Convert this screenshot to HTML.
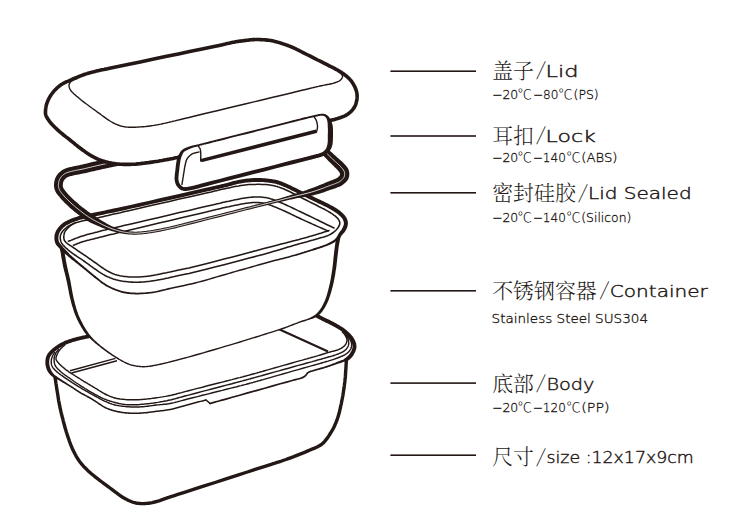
<!DOCTYPE html>
<html lang="zh"><head><meta charset="utf-8"><title>Lunch box structure</title>
<style>
html,body{margin:0;padding:0;background:#fff;}
body{width:750px;height:506px;overflow:hidden;}
svg{display:block;}
text{white-space:pre;}
</style></head><body>
<svg width="750" height="506" viewBox="0 0 750 506">
<path d="M55.0,377.5 L55.5,380.3 L55.9,383.2 L56.4,386.1 L56.8,389.1 L57.3,392.0 L57.8,394.9 L58.2,397.7 L58.6,400.3 L59.1,402.8 L59.5,405.0 L59.8,406.3 L60.0,407.5 L60.2,408.6 L60.5,409.6 L60.7,410.7 L60.9,411.7 L61.2,412.7 L61.4,413.7 L61.7,414.8 L62.0,416.0 L62.4,417.6 L62.9,419.3 L63.3,421.1 L63.8,423.0 L64.3,424.8 L64.8,426.7 L65.3,428.6 L65.9,430.4 L66.4,432.2 L67.0,434.0 L67.5,435.7 L68.1,437.3 L68.7,439.0 L69.2,440.6 L69.8,442.3 L70.4,443.9 L71.0,445.4 L71.7,447.0 L72.3,448.5 L73.0,450.0 L73.6,451.3 L74.3,452.6 L74.9,453.8 L75.6,455.0 L76.2,456.3 L76.9,457.4 L77.6,458.6 L78.4,459.7 L79.2,460.9 L80.0,462.0 L80.9,463.1 L81.7,464.2 L82.6,465.2 L83.6,466.3 L84.5,467.3 L85.5,468.3 L86.6,469.3 L87.7,470.4 L88.8,471.4 L90.0,472.5 L91.7,474.0 L93.6,475.5 L95.5,477.1 L97.6,478.7 L99.7,480.4 L101.9,482.0 L104.0,483.6 L106.1,485.1 L108.1,486.6 L110.0,488.0 L111.5,489.1 L112.9,490.2 L114.4,491.3 L115.8,492.4 L117.2,493.4 L118.5,494.4 L119.9,495.4 L121.2,496.3 L122.6,497.2 L124.0,498.0 L125.2,498.7 L126.4,499.3 L127.6,499.9 L128.7,500.5 L129.9,501.0 L131.1,501.5 L132.3,502.0 L133.5,502.4 L134.7,502.7 L136.0,503.0 L137.3,503.2 L138.6,503.4 L139.9,503.5 L141.3,503.6 L142.6,503.6 L144.0,503.6 L145.4,503.5 L146.9,503.4 L148.4,503.2 L150.0,503.0 L152.3,502.6 L154.7,502.0 L157.2,501.3 L159.7,500.6 L162.3,499.7 L165.1,498.7 L168.0,497.7 L171.0,496.7 L174.3,495.6 L177.8,494.4 L185.2,492.1 L194.2,489.2 L204.3,485.9 L215.1,482.5 L226.1,478.9 L237.0,475.4 L247.4,472.0 L256.8,468.9 L264.9,466.3 L271.2,464.3 L273.2,463.6 L275.0,463.1 L276.5,462.6 L277.9,462.2 L279.2,461.8 L280.5,461.4 L281.7,461.0 L283.0,460.5 L284.4,460.0 L286.0,459.5 L288.2,458.7 L290.6,457.8 L293.1,456.9 L295.6,455.9 L298.2,454.9 L300.7,453.9 L303.3,452.9 L305.7,451.9 L307.9,450.9 L310.0,450.0 L311.4,449.4 L312.7,448.8 L314.0,448.3 L315.3,447.8 L316.5,447.2 L317.7,446.7 L318.8,446.1 L319.9,445.5 L321.0,444.8 L322.0,444.0 L323.0,443.2 L323.9,442.3 L324.7,441.4 L325.5,440.4 L326.3,439.4 L327.1,438.4 L327.8,437.3 L328.6,436.2 L329.3,435.1 L330.0,434.0 L330.8,432.7 L331.6,431.4 L332.3,430.1 L333.1,428.8 L333.8,427.4 L334.5,426.0 L335.1,424.5 L335.8,423.1 L336.4,421.5 L337.0,420.0 L337.6,418.2 L338.2,416.3 L338.8,414.3 L339.3,412.3 L339.8,410.3 L340.3,408.2 L340.7,406.1 L341.2,404.1 L341.6,402.0 L342.0,400.0 L342.4,398.0 L342.8,396.0 L343.1,394.0 L343.4,392.0 L343.7,390.0 L344.0,388.0 L344.3,386.0 L344.5,384.0 L344.8,382.0 L345.0,380.0 L345.2,378.1 L345.4,376.2 L345.5,374.3 L345.6,372.4 L345.7,370.5 L345.9,368.6 L346.0,366.7 L346.1,364.8 L346.2,362.9 L346.3,361.0" fill="none" stroke="#231815" stroke-width="3.4" stroke-linecap="round" stroke-linejoin="round"/>
<path d="M249.6,297.1 L240.5,299.3 L231.4,301.4 L222.2,303.5 L213.1,305.7 L203.9,307.8 L194.8,310.0 L185.8,312.1 L176.9,314.1 L168.1,316.2 L159.6,318.1 L151.9,319.9 L144.0,321.7 L135.9,323.6 L128.0,325.4 L120.1,327.2 L112.6,328.9 L105.6,330.5 L99.2,332.0 L93.5,333.3 L88.8,334.3 L87.0,334.7 L85.5,335.1 L84.1,335.4 L82.7,335.6 L81.5,335.9 L80.3,336.2 L79.1,336.4 L78.0,336.7 L76.7,337.0 L75.5,337.4 L74.2,337.7 L73.0,338.1 L71.7,338.5 L70.5,338.9 L69.2,339.3 L68.0,339.7 L66.8,340.2 L65.5,340.6 L64.4,341.1 L63.2,341.7 L62.1,342.2 L61.0,342.8 L60.0,343.3 L58.9,343.9 L57.9,344.6 L56.9,345.2 L55.9,345.9 L55.0,346.5 L54.1,347.2 L53.2,347.9 L52.4,348.6 L51.7,349.2 L51.0,349.9 L50.3,350.5 L49.6,351.2 L49.0,352.0 L48.3,352.7 L47.8,353.5 L47.2,354.3 L46.8,355.2 L46.4,356.0 L46.2,356.7 L45.9,357.5 L45.7,358.4 L45.6,359.2 L45.5,360.0 L45.4,360.7 L45.4,361.5 L45.4,362.3 L45.4,363.1 L45.4,363.9 L45.5,364.7 L45.6,365.5 L45.8,366.3 L46.0,367.0 L46.2,367.8 L46.4,368.6 L46.7,369.4 L47.0,370.1 L47.3,370.8 L47.7,371.5 L48.1,372.1 L48.5,372.7 L48.9,373.3 L49.4,373.8 L49.9,374.4 L50.4,374.9 L50.9,375.4 L51.5,375.9 L52.1,376.3 L52.7,376.9 L53.4,377.3 L54.2,377.8 L54.9,378.2 L55.7,378.6 L56.4,379.0 L57.2,379.4 L58.0,379.8 L58.7,380.2 L59.5,380.6 L60.4,381.2 L61.4,381.8 L62.4,382.4 L63.4,383.0 L64.4,383.6 L65.5,384.2 L66.5,384.8 L67.5,385.4 L68.6,386.1 L69.6,386.7 L70.6,387.3 L71.6,388.0 L72.6,388.6 L73.6,389.3 L74.5,390.0 L75.5,390.6 L76.6,391.3 L77.6,391.9 L78.6,392.6 L79.6,393.2 L80.6,393.8 L81.7,394.4 L82.7,395.0 L83.8,395.5 L84.8,396.1 L85.9,396.6 L86.9,397.2 L87.8,397.7 L88.8,398.2 L89.6,398.7 L90.2,399.0 L90.7,399.3 L91.2,399.6 L91.6,399.9 L92.1,400.1 L92.6,400.4 L93.0,400.7 L93.5,401.0 L94.0,401.3 L94.6,401.7 L95.4,402.2 L96.3,402.8 L97.3,403.5 L98.3,404.2 L99.3,404.9 L100.4,405.6 L101.4,406.3 L102.5,407.0 L103.6,407.6 L104.7,408.2 L105.7,408.7 L106.7,409.1 L107.7,409.5 L108.7,409.9 L109.7,410.3 L110.7,410.6 L111.7,410.9 L112.8,411.2 L113.8,411.5 L114.8,411.7 L115.8,412.0 L116.8,412.2 L117.8,412.5 L118.8,412.7 L119.8,412.8 L120.9,413.0 L121.9,413.2 L122.9,413.3 L123.9,413.4 L124.9,413.6 L125.9,413.7 L126.9,413.7 L127.9,413.8 L129.0,413.9 L130.0,413.9 L131.0,413.9 L132.0,413.9 L133.0,414.0 L134.0,414.0 L135.0,414.0 L136.0,414.0 L137.0,413.9 L138.0,413.9 L139.0,413.9 L140.0,413.9 L141.0,413.8 L142.0,413.8 L143.1,413.7 L144.1,413.6 L145.1,413.6 L146.1,413.5 L147.1,413.4 L148.0,413.2 L149.0,413.1 L150.0,413.0 L151.0,412.8 L152.0,412.7 L153.0,412.5 L154.0,412.4 L155.1,412.2 L156.5,412.1 L157.9,411.9 L159.3,411.8 L160.8,411.6 L162.3,411.4 L163.9,411.2 L165.4,411.0 L167.0,410.8 L168.6,410.5 L170.1,410.2 L171.9,409.9 L173.7,409.4 L175.5,409.0 L177.3,408.5 L179.1,408.0 L180.9,407.5 L182.8,406.9 L184.6,406.4 L186.4,405.9 L188.2,405.4 L190.0,405.0 L191.8,404.5 L193.6,404.0 L195.4,403.5 L197.2,403.1 L199.0,402.6 L200.8,402.1 L202.6,401.7 L204.4,401.2 L206.2,400.7 L205.8,399.3 L204.0,399.7 L202.2,400.2 L200.4,400.7 L198.6,401.1 L196.8,401.6 L195.0,402.1 L193.2,402.6 L191.4,403.0 L189.6,403.5 L187.8,404.0 L186.0,404.5 L184.2,405.0 L182.3,405.5 L180.5,406.0 L178.7,406.5 L176.9,407.0 L175.1,407.5 L173.3,408.0 L171.6,408.4 L169.9,408.8 L168.3,409.1 L166.8,409.3 L165.2,409.5 L163.7,409.7 L162.2,409.9 L160.6,410.1 L159.2,410.3 L157.7,410.4 L156.3,410.6 L154.9,410.8 L153.8,410.9 L152.8,411.0 L151.7,411.2 L150.7,411.3 L149.8,411.5 L148.8,411.6 L147.8,411.7 L146.9,411.8 L145.9,412.0 L144.9,412.0 L143.9,412.1 L143.0,412.2 L142.0,412.3 L141.0,412.3 L140.0,412.3 L139.0,412.4 L138.0,412.4 L137.0,412.4 L136.0,412.4 L135.0,412.4 L134.0,412.4 L133.0,412.4 L132.0,412.4 L131.0,412.4 L130.0,412.4 L129.0,412.3 L128.0,412.3 L127.1,412.2 L126.1,412.1 L125.1,412.0 L124.1,411.9 L123.1,411.8 L122.1,411.7 L121.1,411.5 L120.1,411.3 L119.1,411.1 L118.1,410.9 L117.2,410.7 L116.2,410.5 L115.2,410.3 L114.2,410.0 L113.2,409.7 L112.2,409.4 L111.2,409.1 L110.2,408.8 L109.2,408.4 L108.2,408.1 L107.3,407.7 L106.3,407.3 L105.3,406.8 L104.3,406.3 L103.3,405.7 L102.3,405.0 L101.2,404.3 L100.2,403.6 L99.2,402.9 L98.2,402.2 L97.2,401.5 L96.3,400.9 L95.4,400.3 L94.9,400.0 L94.3,399.7 L93.8,399.4 L93.4,399.1 L92.9,398.8 L92.5,398.5 L92.0,398.2 L91.5,397.9 L91.0,397.6 L90.4,397.3 L89.5,396.8 L88.6,396.3 L87.6,395.8 L86.6,395.3 L85.6,394.7 L84.5,394.1 L83.5,393.6 L82.4,393.0 L81.4,392.4 L80.4,391.8 L79.4,391.2 L78.4,390.6 L77.4,389.9 L76.4,389.3 L75.4,388.6 L74.4,388.0 L73.4,387.3 L72.4,386.6 L71.4,386.0 L70.4,385.3 L69.4,384.7 L68.4,384.0 L67.4,383.4 L66.4,382.7 L65.3,382.1 L64.3,381.4 L63.3,380.8 L62.4,380.2 L61.4,379.6 L60.5,379.0 L59.7,378.5 L59.0,378.0 L58.3,377.5 L57.5,377.0 L56.9,376.6 L56.2,376.1 L55.6,375.7 L55.0,375.2 L54.4,374.8 L53.9,374.3 L53.5,373.8 L53.1,373.3 L52.7,372.8 L52.4,372.3 L52.0,371.8 L51.7,371.3 L51.4,370.8 L51.2,370.3 L50.9,369.7 L50.7,369.2 L50.5,368.6 L50.2,368.0 L50.0,367.4 L49.8,366.8 L49.7,366.1 L49.5,365.5 L49.4,364.8 L49.3,364.2 L49.2,363.6 L49.2,362.9 L49.2,362.3 L49.2,361.6 L49.2,361.0 L49.3,360.4 L49.4,359.7 L49.5,359.1 L49.6,358.5 L49.8,357.9 L50.0,357.4 L50.2,356.8 L50.5,356.2 L50.9,355.7 L51.3,355.1 L51.8,354.4 L52.4,353.8 L53.0,353.2 L53.6,352.6 L54.3,352.0 L54.9,351.4 L55.6,350.9 L56.4,350.2 L57.2,349.6 L58.1,349.0 L59.0,348.4 L59.9,347.8 L60.9,347.2 L61.8,346.7 L62.8,346.1 L63.8,345.6 L64.8,345.1 L65.9,344.6 L67.0,344.2 L68.1,343.7 L69.3,343.3 L70.4,342.9 L71.6,342.5 L72.8,342.1 L74.1,341.7 L75.3,341.4 L76.5,341.0 L77.7,340.7 L78.9,340.4 L80.0,340.1 L81.1,339.9 L82.3,339.6 L83.5,339.4 L84.8,339.1 L86.3,338.8 L87.9,338.4 L89.6,338.1 L94.4,337.0 L100.1,335.7 L106.5,334.2 L113.5,332.6 L121.0,330.9 L128.8,329.1 L136.8,327.3 L144.8,325.4 L152.8,323.6 L160.4,321.9 L169.0,319.9 L177.7,317.8 L186.6,315.8 L195.7,313.7 L204.8,311.5 L213.9,309.4 L223.1,307.2 L232.3,305.1 L241.4,303.0 L250.4,300.9Z" fill="#231815"/>
<circle cx="250.0" cy="299.0" r="1.90" fill="#231815"/>
<circle cx="206.0" cy="400.0" r="0.75" fill="#231815"/>
<path d="M206,400 L210,403.4" stroke="#231815" stroke-width="1.5" fill="none" stroke-linecap="round"/>
<path d="M210.2,404.3 L211.3,404.0 L212.3,403.7 L213.3,403.5 L214.2,403.2 L215.2,402.9 L216.2,402.6 L217.3,402.3 L218.5,402.0 L219.8,401.6 L221.3,401.2 L226.2,399.9 L232.5,398.1 L239.9,396.0 L248.0,393.7 L256.5,391.4 L265.0,389.0 L273.1,386.7 L280.5,384.6 L286.8,382.9 L291.6,381.5 L293.1,381.1 L294.6,380.7 L295.9,380.4 L297.1,380.1 L298.2,379.8 L299.3,379.6 L300.3,379.3 L301.2,379.0 L302.0,378.7 L302.8,378.4 L303.3,378.2 L303.7,378.0 L304.0,377.8 L304.3,377.6 L304.7,377.4 L305.0,377.2 L305.2,376.9 L305.5,376.7 L305.8,376.5 L306.1,376.2 L306.4,375.9 L306.7,375.6 L306.9,375.2 L307.2,374.9 L307.4,374.6 L307.6,374.2 L307.8,374.0 L308.1,373.7 L308.3,373.5 L308.5,373.3 L308.8,373.1 L309.1,372.9 L309.4,372.8 L309.7,372.7 L310.0,372.5 L310.4,372.4 L310.8,372.3 L311.3,372.1 L311.8,372.0 L312.3,371.8 L313.3,371.5 L314.4,371.2 L315.6,370.8 L317.0,370.4 L318.4,370.1 L319.8,369.7 L321.2,369.3 L322.6,368.9 L324.0,368.5 L325.3,368.1 L326.3,367.8 L327.4,367.4 L328.4,367.1 L329.4,366.8 L330.4,366.4 L331.3,366.1 L332.3,365.7 L333.3,365.4 L334.3,365.0 L335.3,364.7 L336.4,364.3 L337.5,364.0 L338.6,363.6 L339.7,363.2 L340.9,362.9 L342.0,362.5 L343.1,362.1 L344.2,361.8 L345.3,361.4 L346.4,361.0 L345.6,358.6 L344.5,359.0 L343.4,359.4 L342.3,359.9 L341.2,360.3 L340.1,360.8 L339.0,361.2 L337.9,361.6 L336.8,362.1 L335.7,362.5 L334.7,362.9 L333.7,363.3 L332.7,363.6 L331.7,364.0 L330.7,364.4 L329.8,364.7 L328.8,365.1 L327.8,365.4 L326.8,365.8 L325.8,366.1 L324.7,366.5 L323.5,366.9 L322.2,367.3 L320.8,367.6 L319.3,368.0 L317.9,368.4 L316.5,368.8 L315.2,369.2 L313.9,369.5 L312.8,369.9 L311.7,370.2 L311.2,370.4 L310.8,370.5 L310.3,370.6 L309.9,370.8 L309.5,370.9 L309.1,371.1 L308.7,371.2 L308.3,371.4 L307.9,371.7 L307.5,371.9 L307.1,372.2 L306.8,372.6 L306.5,372.9 L306.2,373.2 L306.0,373.6 L305.8,373.9 L305.6,374.2 L305.4,374.5 L305.1,374.8 L304.9,375.0 L304.7,375.2 L304.4,375.4 L304.2,375.6 L303.9,375.8 L303.7,376.0 L303.4,376.1 L303.2,376.3 L302.9,376.5 L302.5,376.6 L302.2,376.8 L301.4,377.1 L300.6,377.4 L299.8,377.7 L298.8,377.9 L297.8,378.2 L296.7,378.5 L295.5,378.8 L294.1,379.1 L292.7,379.5 L291.2,379.9 L286.3,381.2 L280.0,383.0 L272.6,385.1 L264.5,387.4 L256.0,389.7 L247.5,392.1 L239.4,394.4 L232.0,396.5 L225.7,398.2 L220.9,399.6 L219.4,400.0 L218.0,400.4 L216.8,400.7 L215.7,401.0 L214.7,401.3 L213.8,401.6 L212.8,401.8 L211.8,402.1 L210.8,402.4 L209.8,402.7Z" fill="#231815"/>
<circle cx="210.0" cy="403.5" r="0.85" fill="#231815"/>
<circle cx="346.0" cy="359.8" r="1.30" fill="#231815"/>
<path d="M346.0,359.8 L346.4,359.5 L346.7,359.3 L347.1,359.0 L347.4,358.7 L347.8,358.5 L348.1,358.2 L348.5,357.9 L348.8,357.6 L349.2,357.3 L349.5,357.0 L349.9,356.6 L350.3,356.1 L350.7,355.7 L351.0,355.2 L351.4,354.7 L351.8,354.2 L352.1,353.6 L352.4,353.1 L352.7,352.5 L353.0,352.0 L353.2,351.4 L353.5,350.9 L353.7,350.3 L353.9,349.7 L354.1,349.1 L354.3,348.5 L354.4,347.9 L354.5,347.2 L354.5,346.6 L354.5,346.0 L354.4,345.3 L354.3,344.6 L354.2,343.9 L354.0,343.2 L353.7,342.5 L353.4,341.8 L353.1,341.1 L352.8,340.4 L352.4,339.7 L352.0,339.0 L351.5,338.2 L350.9,337.4 L350.3,336.6 L349.6,335.9 L348.9,335.1 L348.2,334.4 L347.4,333.6 L346.6,332.9 L345.8,332.2 L345.0,331.5 L344.1,330.8 L343.2,330.1 L342.2,329.4 L341.2,328.7 L340.2,328.1 L339.1,327.4 L338.1,326.8 L337.1,326.2 L336.0,325.6 L335.0,325.0 L334.0,324.5 L333.1,324.0 L332.2,323.5 L331.2,323.0 L330.3,322.6 L329.3,322.1 L328.3,321.6 L327.3,321.1 L326.2,320.6 L325.0,320.0 L322.9,318.9 L320.6,317.8 L318.1,316.5 L315.5,315.1 L312.8,313.8 L310.1,312.4 L307.4,310.9 L304.8,309.6 L302.3,308.2 L300.0,307.0 L298.2,306.0 L296.6,305.1 L294.9,304.2 L293.3,303.3 L291.8,302.4 L290.2,301.5 L288.7,300.7 L287.1,299.8 L285.6,298.9 L284.0,298.0" fill="none" stroke="#231815" stroke-width="3.9" stroke-linecap="round" stroke-linejoin="round"/>
<path d="M54.5,352.5 L54.3,352.8 L54.1,353.2 L53.9,353.5 L53.7,353.9 L53.4,354.2 L53.2,354.6 L53.0,354.9 L52.8,355.3 L52.7,355.6 L52.5,356.0 L52.3,356.4 L52.2,356.8 L52.0,357.3 L51.9,357.7 L51.7,358.2 L51.6,358.6 L51.5,359.1 L51.4,359.6 L51.3,360.0 L51.3,360.5 L51.3,361.0 L51.3,361.6 L51.3,362.1 L51.3,362.7 L51.3,363.3 L51.4,363.8 L51.5,364.4 L51.6,364.9 L51.8,365.5 L52.0,366.0 L52.3,366.5 L52.5,367.1 L52.9,367.6 L53.2,368.1 L53.6,368.6 L54.1,369.0 L54.5,369.5 L55.0,370.0 L55.5,370.5 L56.0,371.0 L56.7,371.7 L57.5,372.3 L58.3,373.0 L59.2,373.7 L60.1,374.3 L61.0,375.0 L62.0,375.7 L63.0,376.4 L64.0,377.1 L65.0,377.8 L66.3,378.7 L67.7,379.7 L69.2,380.6 L70.7,381.6 L72.2,382.6 L73.8,383.6 L75.4,384.6 L76.9,385.6 L78.5,386.6 L80.0,387.5 L81.5,388.4 L83.0,389.3 L84.6,390.2 L86.1,391.1 L87.7,391.9 L89.2,392.8 L90.7,393.6 L92.2,394.5 L93.6,395.2 L95.0,396.0 L96.1,396.6 L97.1,397.2 L98.1,397.7 L99.1,398.3 L100.1,398.8 L101.1,399.4 L102.0,399.9 L103.0,400.4 L104.0,400.8 L105.0,401.3 L106.0,401.7 L107.0,402.2 L108.0,402.6 L109.0,403.0 L110.0,403.4 L111.0,403.7 L112.0,404.1 L113.0,404.4 L114.0,404.7 L115.0,405.0 L116.0,405.2 L117.0,405.4 L118.0,405.6 L119.0,405.8 L120.0,405.9 L121.0,406.1 L122.0,406.2 L123.0,406.3 L124.0,406.4 L125.0,406.5 L126.0,406.6 L127.0,406.7 L128.0,406.8 L129.0,406.8 L130.0,406.9 L131.0,406.9 L132.0,407.0 L133.0,407.0 L134.0,407.0 L135.0,407.0 L136.0,407.0 L137.0,407.0 L138.0,406.9 L139.0,406.9 L140.0,406.9 L141.0,406.8 L142.0,406.7 L143.0,406.7 L144.0,406.6 L145.0,406.5 L146.0,406.4 L147.0,406.3 L147.9,406.2 L148.9,406.0 L149.9,405.9 L150.9,405.8 L151.9,405.6 L152.9,405.5 L153.9,405.3 L155.0,405.2 L156.4,405.0 L157.8,404.9 L159.3,404.8 L160.8,404.6 L162.3,404.5 L163.9,404.3 L165.4,404.2 L167.0,404.0 L168.5,403.8 L170.0,403.5 L171.5,403.2 L172.9,402.9 L174.3,402.6 L175.6,402.2 L177.0,401.9 L178.4,401.5 L179.9,401.1 L181.5,400.6 L183.2,400.2 L185.0,399.7 L188.6,398.8 L192.8,397.7 L197.5,396.6 L202.4,395.3 L207.5,394.1 L212.6,392.8 L217.5,391.5 L222.2,390.4 L226.4,389.3 L230.0,388.4 L231.9,387.9 L233.6,387.5 L235.3,387.1 L236.9,386.7 L238.4,386.3 L239.8,385.9 L241.2,385.6 L242.5,385.2 L243.8,384.9 L245.0,384.6 L245.8,384.4 L246.5,384.2 L247.2,384.0 L247.9,383.8 L248.5,383.7 L249.1,383.5 L249.8,383.3 L250.5,383.1 L251.2,382.9 L252.0,382.7 L253.2,382.4 L254.5,382.0 L255.7,381.6 L257.1,381.3 L258.5,380.9 L259.9,380.5 L261.5,380.0 L263.1,379.6 L264.8,379.1 L266.6,378.6 L270.1,377.6 L274.2,376.4 L278.8,375.1 L283.6,373.8 L288.5,372.4 L293.4,370.9 L298.2,369.6 L302.8,368.3 L306.9,367.1 L310.4,366.1 L312.2,365.6 L313.8,365.2 L315.4,364.8 L316.8,364.4 L318.2,364.0 L319.5,363.6 L320.9,363.2 L322.2,362.8 L323.6,362.4 L325.0,362.0 L326.5,361.5 L328.1,361.1 L329.7,360.6 L331.3,360.1 L332.9,359.6 L334.4,359.1 L335.9,358.5 L337.4,358.0 L338.7,357.5 L340.0,357.0 L340.8,356.6 L341.6,356.3 L342.4,356.0 L343.1,355.6 L343.9,355.3 L344.5,354.9 L345.2,354.6 L345.8,354.2 L346.4,353.7 L347.0,353.3 L347.5,352.9 L348.0,352.4 L348.5,351.9 L348.9,351.5 L349.4,351.0 L349.8,350.4 L350.1,349.9 L350.5,349.4 L350.8,348.8 L351.0,348.3 L351.2,347.8 L351.3,347.3 L351.5,346.7 L351.6,346.2 L351.6,345.7 L351.7,345.1 L351.7,344.6 L351.6,344.0 L351.6,343.5 L351.5,343.0 L351.4,342.5 L351.2,342.0 L351.0,341.4 L350.7,340.9 L350.5,340.4 L350.2,339.9 L349.9,339.4 L349.6,338.9 L349.3,338.5 L349.0,338.0 L348.8,337.6 L348.5,337.2 L348.3,336.9 L348.0,336.5 L347.8,336.2 L347.5,335.9 L347.3,335.5 L347.0,335.2 L346.8,334.8 L346.5,334.5" fill="none" stroke="#231815" stroke-width="1.45" stroke-linecap="round" stroke-linejoin="round"/>
<path d="M58.5,349.5 L58.2,349.8 L57.9,350.2 L57.7,350.5 L57.4,350.9 L57.1,351.2 L56.8,351.5 L56.5,351.9 L56.3,352.2 L56.0,352.6 L55.8,353.0 L55.6,353.4 L55.4,353.9 L55.2,354.4 L55.0,354.9 L54.8,355.4 L54.6,355.9 L54.5,356.4 L54.4,356.9 L54.3,357.5 L54.2,358.0 L54.1,358.7 L54.1,359.3 L54.1,360.0 L54.1,360.8 L54.2,361.5 L54.3,362.2 L54.4,363.0 L54.5,363.7 L54.8,364.3 L55.0,365.0 L55.3,365.7 L55.7,366.3 L56.1,366.9 L56.6,367.5 L57.1,368.1 L57.6,368.7 L58.2,369.2 L58.8,369.8 L59.4,370.4 L60.0,371.0 L60.8,371.8 L61.7,372.5 L62.6,373.2 L63.6,374.0 L64.6,374.7 L65.6,375.5 L66.7,376.2 L67.8,377.0 L68.9,377.7 L70.0,378.5 L71.4,379.5 L72.8,380.5 L74.2,381.5 L75.7,382.5 L77.3,383.5 L78.8,384.5 L80.4,385.6 L81.9,386.6 L83.5,387.5 L85.0,388.5 L86.5,389.4 L88.1,390.4 L89.7,391.3 L91.4,392.3 L93.0,393.2 L94.6,394.1 L96.1,394.9 L97.5,395.7 L98.8,396.4 L100.0,397.0 L100.6,397.3 L101.1,397.6 L101.6,397.8 L102.1,398.0 L102.5,398.3 L103.0,398.5 L103.4,398.7 L103.9,398.9 L104.4,399.1 L105.0,399.3 L105.9,399.6 L106.8,400.0 L107.7,400.3 L108.7,400.6 L109.8,401.0 L110.8,401.3 L111.9,401.6 L112.9,401.9 L114.0,402.2 L115.0,402.5 L116.0,402.8 L117.0,403.0 L118.0,403.2 L119.0,403.5 L120.0,403.7 L121.0,403.9 L122.0,404.1 L123.0,404.2 L124.0,404.4 L125.0,404.5 L126.0,404.6 L127.0,404.7 L128.0,404.7 L129.0,404.8 L130.0,404.8 L131.0,404.8 L132.0,404.8 L133.0,404.8 L134.0,404.8 L135.0,404.8 L136.0,404.8 L137.0,404.7 L138.0,404.7 L139.0,404.6 L140.0,404.5 L141.0,404.4 L142.0,404.3 L143.0,404.2 L144.0,404.1 L145.0,404.0 L146.0,403.9 L147.0,403.8 L147.9,403.7 L148.9,403.6 L149.9,403.5 L150.9,403.4 L151.9,403.2 L152.9,403.1 L153.9,403.0 L155.0,402.8 L156.4,402.6 L157.8,402.4 L159.3,402.1 L160.8,401.8 L162.3,401.6 L163.9,401.3 L165.4,401.0 L167.0,400.7 L168.5,400.3 L170.0,400.0 L171.5,399.7 L172.9,399.3 L174.3,399.0 L175.6,398.6 L177.0,398.2 L178.4,397.8 L179.9,397.4 L181.5,397.0 L183.2,396.5 L185.0,396.0 L188.6,395.1 L192.8,394.0 L197.5,392.7 L202.4,391.4 L207.5,390.1 L212.6,388.8 L217.5,387.5 L222.2,386.2 L226.4,385.1 L230.0,384.2 L231.9,383.7 L233.6,383.2 L235.3,382.8 L236.9,382.4 L238.4,382.0 L239.8,381.6 L241.2,381.2 L242.5,380.9 L243.8,380.5 L245.0,380.2 L245.8,380.0 L246.5,379.8 L247.2,379.6 L247.9,379.4 L248.5,379.3 L249.1,379.1 L249.8,378.9 L250.5,378.7 L251.2,378.5 L252.0,378.3 L253.2,378.0 L254.5,377.6 L255.7,377.3 L257.1,376.9 L258.5,376.5 L259.9,376.1 L261.5,375.7 L263.1,375.2 L264.8,374.7 L266.6,374.2 L270.1,373.3 L274.2,372.1 L278.8,370.9 L283.6,369.5 L288.5,368.2 L293.4,366.8 L298.2,365.4 L302.8,364.2 L306.9,363.0 L310.4,362.1 L312.2,361.6 L313.8,361.1 L315.4,360.7 L316.8,360.3 L318.2,359.9 L319.6,359.5 L320.9,359.2 L322.3,358.8 L323.6,358.4 L325.0,358.0 L326.4,357.6 L327.7,357.2 L329.1,356.8 L330.5,356.5 L331.8,356.1 L333.2,355.7 L334.4,355.3 L335.7,354.9 L336.9,354.4 L338.0,354.0 L338.8,353.7 L339.6,353.3 L340.4,353.0 L341.1,352.7 L341.9,352.3 L342.6,352.0 L343.2,351.6 L343.8,351.2 L344.4,350.8 L345.0,350.3 L345.5,349.9 L345.9,349.4 L346.4,348.9 L346.8,348.4 L347.2,347.9 L347.5,347.4 L347.8,346.9 L348.1,346.3 L348.3,345.8 L348.5,345.2 L348.6,344.6 L348.7,344.0 L348.7,343.4 L348.7,342.7 L348.6,342.1 L348.6,341.4 L348.4,340.8 L348.3,340.2 L348.2,339.6 L348.0,339.0 L347.8,338.5 L347.6,338.0 L347.4,337.6 L347.1,337.1 L346.9,336.7 L346.6,336.2 L346.3,335.8 L346.0,335.4 L345.8,334.9 L345.5,334.5" fill="none" stroke="#231815" stroke-width="1.45" stroke-linecap="round" stroke-linejoin="round"/>
<path d="M65.0,344.8 L64.5,345.2 L64.1,345.6 L63.6,346.0 L63.1,346.4 L62.7,346.8 L62.2,347.3 L61.8,347.7 L61.3,348.1 L60.9,348.5 L60.5,349.0 L60.1,349.5 L59.8,349.9 L59.4,350.4 L59.0,350.9 L58.7,351.4 L58.4,351.9 L58.1,352.4 L57.8,353.0 L57.5,353.5 L57.3,354.0 L57.1,354.5 L56.9,355.0 L56.7,355.5 L56.5,356.0 L56.3,356.5 L56.2,357.0 L56.0,357.6 L56.0,358.0 L56.0,358.5 L56.0,359.0 L56.1,359.4 L56.2,359.8 L56.4,360.2 L56.6,360.6 L56.9,361.0 L57.2,361.4 L57.5,361.8 L57.8,362.2 L58.2,362.6 L58.5,363.0 L59.0,363.6 L59.6,364.2 L60.2,364.8 L60.8,365.4 L61.5,366.0 L62.1,366.6 L62.9,367.2 L63.6,367.8 L64.3,368.4 L65.0,369.0 L65.7,369.6 L66.5,370.1 L67.3,370.7 L68.0,371.2 L68.8,371.8 L69.6,372.3 L70.4,372.8 L71.3,373.4 L72.1,373.9 L73.0,374.5 L74.1,375.2 L75.3,376.0 L76.4,376.7 L77.7,377.5 L78.9,378.2 L80.2,379.0 L81.4,379.8 L82.6,380.5 L83.8,381.3 L85.0,382.0 L86.0,382.6 L87.1,383.2 L88.1,383.9 L89.1,384.5 L90.1,385.0 L91.0,385.6 L92.0,386.2 L93.0,386.8 L94.0,387.4 L95.0,388.0 L96.0,388.6 L97.0,389.2 L98.0,389.9 L99.0,390.5 L100.0,391.1 L101.0,391.7 L102.0,392.3 L103.0,392.9 L104.0,393.5 L105.0,394.0 L106.0,394.5 L107.0,395.0 L108.0,395.4 L109.0,395.8 L110.0,396.3 L111.0,396.7 L112.0,397.0 L113.0,397.4 L114.0,397.7 L115.0,398.0 L116.0,398.3 L117.0,398.5 L118.0,398.7 L119.0,398.8 L120.0,399.0 L121.0,399.1 L122.0,399.2 L123.0,399.3 L124.0,399.4 L125.0,399.5 L126.0,399.6 L127.0,399.7 L128.0,399.7 L129.0,399.7 L130.0,399.8 L131.0,399.8 L132.0,399.8 L133.0,399.8 L134.0,399.8 L135.0,399.8 L136.0,399.8 L137.0,399.7 L138.0,399.7 L139.0,399.7 L140.0,399.6 L141.0,399.5 L142.0,399.5 L143.0,399.4 L144.0,399.3 L145.0,399.2 L146.0,399.1 L147.0,399.0 L147.9,398.9 L148.9,398.8 L149.9,398.7 L150.9,398.6 L151.9,398.4 L152.9,398.3 L153.9,398.2 L155.0,398.0 L156.4,397.8 L157.8,397.6 L159.3,397.4 L160.8,397.1 L162.3,396.9 L163.9,396.6 L165.4,396.4 L167.0,396.1 L168.5,395.8 L170.0,395.5 L171.5,395.2 L172.9,394.8 L174.3,394.5 L175.6,394.2 L177.0,393.8 L178.4,393.4 L179.9,393.0 L181.5,392.6 L183.2,392.1 L185.0,391.6 L188.6,390.7 L192.8,389.6 L197.5,388.4 L202.4,387.2 L207.5,385.8 L212.6,384.5 L217.5,383.3 L222.2,382.1 L226.4,381.0 L230.0,380.1 L231.9,379.6 L233.6,379.1 L235.3,378.7 L236.9,378.3 L238.4,377.9 L239.8,377.6 L241.2,377.2 L242.5,376.9 L243.8,376.5 L245.0,376.2 L245.8,376.0 L246.5,375.8 L247.2,375.6 L247.9,375.4 L248.5,375.3 L249.2,375.1 L249.8,374.9 L250.5,374.7 L251.2,374.5 L252.0,374.3 L253.1,374.0 L254.2,373.7 L255.3,373.4 L256.5,373.1 L257.6,372.7 L258.9,372.4 L260.2,372.0 L261.6,371.6 L263.1,371.2 L264.6,370.7 L267.7,369.9 L271.2,368.9 L275.1,367.8 L279.2,366.6 L283.5,365.4 L287.8,364.2 L291.9,363.0 L295.8,361.9 L299.3,360.9 L302.4,360.1 L303.9,359.6 L305.3,359.2 L306.6,358.9 L307.9,358.5 L309.1,358.2 L310.2,357.9 L311.4,357.5 L312.5,357.2 L313.7,356.9 L315.0,356.5 L316.5,356.1 L318.0,355.6 L319.5,355.2 L321.1,354.7 L322.7,354.2 L324.2,353.7 L325.7,353.3 L327.2,352.8 L328.6,352.4 L330.0,352.0 L331.0,351.7 L332.0,351.4 L332.9,351.2 L333.9,351.0 L334.8,350.7 L335.7,350.5 L336.5,350.2 L337.4,350.0 L338.2,349.7 L339.0,349.3 L339.7,349.0 L340.4,348.6 L341.1,348.3 L341.7,347.9 L342.4,347.5 L343.0,347.1 L343.5,346.6 L344.1,346.2 L344.6,345.7 L345.0,345.2 L345.3,344.7 L345.7,344.3 L346.0,343.7 L346.2,343.2 L346.4,342.7 L346.6,342.1 L346.8,341.6 L346.9,341.1 L347.0,340.5 L347.0,340.0 L347.0,339.5 L346.9,339.0 L346.7,338.4 L346.5,337.9 L346.3,337.4 L346.1,336.9 L345.8,336.4 L345.5,335.9 L345.3,335.4 L345.0,335.0 L344.8,334.7 L344.5,334.3 L344.3,334.0 L344.1,333.7 L343.8,333.4 L343.5,333.1 L343.3,332.9 L343.0,332.6 L342.8,332.3 L342.5,332.0" fill="none" stroke="#231815" stroke-width="1.45" stroke-linecap="round" stroke-linejoin="round"/>
<path d="M70,370.8 L115.5,358.4 M71.5,373 L117,360.7" stroke="#231815" stroke-width="1.4" fill="none"/>
<path d="M278,328.8 L328,351.5" stroke="#231815" stroke-width="2.1" fill="none"/>
<path d="M62.0,249.0 L62.3,250.6 L62.5,252.2 L62.8,253.8 L63.1,255.4 L63.3,257.0 L63.6,258.6 L63.9,260.2 L64.2,261.8 L64.5,263.4 L64.8,265.0 L65.1,266.5 L65.5,268.0 L65.8,269.5 L66.1,270.9 L66.5,272.4 L66.9,273.9 L67.2,275.4 L67.6,276.9 L67.9,278.4 L68.3,280.0 L68.7,281.9 L69.1,283.9 L69.5,285.9 L69.8,287.9 L70.2,290.0 L70.6,292.0 L71.0,294.1 L71.4,296.1 L71.8,298.1 L72.3,300.0 L72.7,301.7 L73.2,303.3 L73.6,305.0 L74.0,306.6 L74.5,308.2 L75.0,309.7 L75.5,311.3 L76.1,312.9 L76.7,314.4 L77.3,316.0 L78.0,317.7 L78.8,319.4 L79.7,321.1 L80.5,322.8 L81.4,324.5 L82.4,326.2 L83.3,327.8 L84.2,329.3 L85.1,330.7 L86.0,332.0 L86.6,332.8 L87.2,333.6 L87.8,334.4 L88.3,335.1 L88.9,335.8 L89.5,336.4 L90.1,337.0 L90.7,337.7 L91.3,338.3 L92.0,339.0 L92.7,339.7 L93.5,340.4 L94.2,341.1 L95.0,341.8 L95.8,342.5 L96.6,343.2 L97.4,343.9 L98.2,344.6 L99.1,345.3 L100.0,346.0 L101.1,346.9 L102.2,347.7 L103.4,348.6 L104.6,349.5 L105.8,350.5 L107.0,351.4 L108.3,352.2 L109.5,353.1 L110.8,354.0 L112.0,354.8 L113.2,355.6 L114.4,356.4 L115.7,357.2 L117.0,358.0 L118.2,358.7 L119.5,359.5 L120.7,360.2 L121.8,360.8 L123.0,361.4 L124.0,362.0 L124.7,362.3 L125.3,362.7 L125.9,363.0 L126.5,363.2 L127.0,363.5 L127.6,363.7 L128.2,364.0 L128.8,364.2 L129.4,364.4 L130.0,364.6 L130.7,364.8 L131.5,365.0 L132.3,365.2 L133.1,365.4 L133.9,365.6 L134.7,365.8 L135.6,365.9 L136.4,366.1 L137.2,366.2 L138.0,366.3 L138.8,366.4 L139.6,366.5 L140.3,366.5 L141.1,366.6 L141.9,366.6 L142.6,366.7 L143.4,366.7 L144.3,366.7 L145.1,366.6 L146.0,366.6 L147.2,366.5 L148.5,366.4 L149.9,366.2 L151.3,366.0 L152.7,365.7 L154.2,365.5 L155.7,365.2 L157.1,364.9 L158.6,364.6 L160.0,364.3 L161.5,364.0 L163.0,363.6 L164.5,363.3 L166.0,362.9 L167.5,362.6 L169.0,362.2 L170.5,361.8 L172.0,361.4 L173.5,361.0 L175.0,360.6 L176.5,360.2 L177.9,359.9 L179.2,359.5 L180.6,359.2 L182.0,358.8 L183.4,358.4 L184.9,358.0 L186.4,357.6 L188.1,357.1 L190.0,356.6 L193.9,355.5 L198.3,354.2 L203.3,352.8 L208.5,351.3 L214.0,349.7 L219.5,348.1 L225.0,346.5 L230.4,344.9 L235.4,343.4 L240.0,342.0 L243.4,341.0 L246.7,340.0 L249.9,339.0 L253.1,338.0 L256.1,337.0 L259.1,336.1 L262.0,335.2 L264.8,334.3 L267.5,333.4 L270.0,332.6 L271.7,332.1 L273.3,331.5 L274.9,331.0 L276.4,330.6 L277.8,330.1 L279.3,329.6 L280.7,329.2 L282.1,328.7 L283.5,328.2 L285.0,327.7 L286.5,327.2 L288.1,326.6 L289.6,326.0 L291.2,325.4 L292.7,324.8 L294.3,324.2 L295.8,323.6 L297.2,323.0 L298.7,322.5 L300.0,322.0 L301.0,321.7 L302.0,321.3 L302.9,321.0 L303.9,320.7 L304.8,320.4 L305.6,320.2 L306.5,319.9 L307.4,319.6 L308.2,319.3 L309.0,319.0 L309.7,318.7 L310.3,318.5 L310.9,318.3 L311.5,318.0 L312.1,317.8 L312.7,317.5 L313.3,317.2 L313.9,316.9 L314.4,316.6 L315.0,316.3 L315.5,315.9 L316.1,315.6 L316.6,315.2 L317.1,314.8 L317.6,314.4 L318.1,314.0 L318.6,313.5 L319.0,313.1 L319.5,312.5 L320.0,312.0 L320.6,311.2 L321.3,310.4 L321.9,309.5 L322.5,308.5 L323.2,307.5 L323.8,306.5 L324.3,305.4 L324.9,304.3 L325.5,303.1 L326.0,302.0 L326.6,300.6 L327.2,299.1 L327.7,297.5 L328.3,295.9 L328.8,294.3 L329.3,292.6 L329.7,291.0 L330.2,289.3 L330.6,287.6 L331.0,286.0 L331.4,284.4 L331.7,282.9 L332.1,281.3 L332.4,279.8 L332.7,278.2 L332.9,276.7 L333.2,275.1 L333.5,273.4 L333.7,271.7 L334.0,270.0 L334.3,267.7 L334.6,265.2 L334.9,262.6 L335.2,260.0 L335.5,257.3 L335.8,254.6 L336.1,252.0 L336.4,249.5 L336.7,247.2 L337.0,245.0 L337.2,243.6 L337.5,242.3 L337.7,241.1 L338.0,239.9 L338.2,238.7 L338.5,237.6 L338.7,236.5 L339.0,235.3 L339.2,234.2 L339.5,233.0 L300.0,230.0 L100.0,240.0Z" fill="#fff"/>
<path d="M60.0,249.3 L60.3,250.9 L60.6,252.5 L60.9,254.1 L61.1,255.8 L61.4,257.4 L61.7,259.0 L62.0,260.6 L62.3,262.2 L62.6,263.8 L62.9,265.4 L63.2,266.9 L63.6,268.4 L63.9,269.9 L64.3,271.4 L64.7,272.8 L65.0,274.3 L65.4,275.8 L65.8,277.3 L66.1,278.8 L66.5,280.4 L66.9,282.3 L67.3,284.2 L67.7,286.2 L68.1,288.2 L68.5,290.3 L68.9,292.4 L69.3,294.4 L69.7,296.5 L70.2,298.5 L70.7,300.4 L71.1,302.1 L71.5,303.8 L72.0,305.4 L72.5,307.0 L73.0,308.6 L73.5,310.2 L74.0,311.8 L74.6,313.4 L75.2,315.0 L75.9,316.6 L76.6,318.3 L77.4,320.0 L78.3,321.8 L79.2,323.5 L80.2,325.2 L81.1,326.9 L82.1,328.5 L83.0,330.0 L83.9,331.5 L84.8,332.8 L85.5,333.6 L86.1,334.4 L86.8,335.2 L87.4,335.9 L88.0,336.5 L88.7,337.2 L89.3,337.8 L89.9,338.4 L90.6,339.1 L91.3,339.7 L92.0,340.4 L92.8,341.1 L93.6,341.8 L94.4,342.5 L95.2,343.2 L96.0,343.9 L96.9,344.5 L97.7,345.2 L98.6,345.9 L99.5,346.6 L100.6,347.5 L101.7,348.4 L102.9,349.3 L104.1,350.2 L105.3,351.1 L106.6,352.0 L107.8,352.9 L109.1,353.7 L110.3,354.6 L111.6,355.4 L112.8,356.2 L114.0,357.0 L115.3,357.8 L116.6,358.6 L117.8,359.4 L119.1,360.1 L120.3,360.8 L121.5,361.5 L122.6,362.1 L123.7,362.6 L124.4,363.0 L125.0,363.3 L125.6,363.6 L126.2,363.9 L126.8,364.1 L127.3,364.4 L127.9,364.6 L128.5,364.8 L129.1,365.1 L129.8,365.3 L130.5,365.5 L131.3,365.7 L132.1,365.9 L132.9,366.1 L133.8,366.3 L134.6,366.5 L135.4,366.6 L136.3,366.8 L137.1,366.9 L137.9,367.0 L138.7,367.1 L139.5,367.2 L140.3,367.2 L141.0,367.3 L141.8,367.3 L142.6,367.4 L143.4,367.4 L144.3,367.4 L145.1,367.3 L146.0,367.3 L147.3,367.2 L148.6,367.1 L150.0,366.9 L151.4,366.7 L152.9,366.4 L154.3,366.1 L155.8,365.9 L157.3,365.6 L158.7,365.3 L160.1,365.0 L161.6,364.7 L163.1,364.3 L164.6,364.0 L166.1,363.6 L167.6,363.2 L169.2,362.8 L170.7,362.5 L172.2,362.1 L173.7,361.7 L175.2,361.3 L176.6,360.9 L178.0,360.5 L179.4,360.2 L180.8,359.8 L182.1,359.5 L183.6,359.1 L185.0,358.7 L186.6,358.3 L188.3,357.8 L190.2,357.3 L194.1,356.2 L198.5,354.9 L203.5,353.5 L208.7,352.0 L214.2,350.4 L219.7,348.8 L225.2,347.1 L230.6,345.6 L235.6,344.1 L240.2,342.7 L243.6,341.6 L246.9,340.6 L250.1,339.6 L253.3,338.6 L256.3,337.7 L259.3,336.7 L262.2,335.8 L265.0,334.9 L267.7,334.1 L270.2,333.3 L271.9,332.7 L273.5,332.2 L275.1,331.7 L276.6,331.2 L278.0,330.8 L279.5,330.3 L280.9,329.8 L282.3,329.4 L283.8,328.9 L285.2,328.4 L286.8,327.8 L288.3,327.2 L289.9,326.6 L291.4,326.0 L293.0,325.4 L294.5,324.8 L296.0,324.2 L297.5,323.7 L298.9,323.1 L300.2,322.7 L301.2,322.3 L302.2,322.0 L303.1,321.7 L304.1,321.4 L305.0,321.2 L305.9,320.9 L306.8,320.6 L307.6,320.3 L308.5,320.0 L309.3,319.7 L310.0,319.5 L310.6,319.3 L311.3,319.1 L311.9,318.9 L312.5,318.7 L313.2,318.5 L313.8,318.2 L314.4,317.9 L315.0,317.6 L315.6,317.3 L316.2,317.0 L316.8,316.6 L317.3,316.2 L317.9,315.8 L318.4,315.4 L319.0,315.0 L319.5,314.5 L320.1,314.0 L320.6,313.5 L321.1,312.9 L321.8,312.1 L322.5,311.2 L323.1,310.3 L323.8,309.3 L324.5,308.3 L325.1,307.2 L325.7,306.1 L326.3,305.0 L326.9,303.8 L327.5,302.6 L328.1,301.2 L328.7,299.7 L329.3,298.1 L329.8,296.4 L330.4,294.8 L330.9,293.1 L331.4,291.4 L331.8,289.7 L332.3,288.1 L332.7,286.4 L333.1,284.8 L333.5,283.3 L333.8,281.7 L334.1,280.1 L334.4,278.6 L334.7,277.0 L335.0,275.4 L335.3,273.7 L335.5,272.0 L335.8,270.3 L336.2,267.9 L336.5,265.4 L336.8,262.8 L337.1,260.2 L337.4,257.5 L337.7,254.8 L338.0,252.2 L338.3,249.7 L338.6,247.4 L338.9,245.3 L339.2,244.0 L339.4,242.7 L339.6,241.5 L339.9,240.3 L340.1,239.1 L340.4,238.0 L340.6,236.9 L340.9,235.8 L341.2,234.6 L341.4,233.4 L337.6,232.6 L337.3,233.8 L337.1,234.9 L336.8,236.0 L336.6,237.2 L336.3,238.3 L336.1,239.5 L335.8,240.7 L335.6,241.9 L335.3,243.3 L335.1,244.7 L334.8,246.9 L334.5,249.3 L334.2,251.8 L333.9,254.4 L333.6,257.1 L333.3,259.8 L333.1,262.4 L332.8,265.0 L332.5,267.4 L332.2,269.7 L331.9,271.5 L331.7,273.1 L331.4,274.8 L331.1,276.4 L330.9,277.9 L330.6,279.5 L330.3,281.0 L330.0,282.5 L329.7,284.0 L329.3,285.6 L328.9,287.2 L328.5,288.8 L328.1,290.5 L327.6,292.2 L327.2,293.8 L326.7,295.4 L326.2,297.0 L325.7,298.5 L325.1,300.0 L324.5,301.4 L324.0,302.5 L323.5,303.6 L323.0,304.6 L322.4,305.7 L321.8,306.7 L321.3,307.7 L320.7,308.6 L320.1,309.5 L319.5,310.3 L318.9,311.1 L318.5,311.6 L318.0,312.1 L317.6,312.6 L317.2,313.0 L316.7,313.4 L316.3,313.8 L315.8,314.2 L315.4,314.6 L314.9,314.9 L314.4,315.3 L313.9,315.6 L313.4,316.0 L312.8,316.3 L312.3,316.6 L311.8,316.8 L311.2,317.1 L310.6,317.4 L310.0,317.7 L309.4,318.0 L308.7,318.3 L307.9,318.6 L307.1,318.9 L306.3,319.2 L305.4,319.4 L304.5,319.7 L303.6,320.0 L302.7,320.3 L301.7,320.6 L300.8,321.0 L299.8,321.3 L298.4,321.8 L297.0,322.4 L295.5,322.9 L294.0,323.5 L292.5,324.1 L290.9,324.7 L289.4,325.3 L287.8,325.9 L286.3,326.5 L284.8,327.0 L283.3,327.6 L281.9,328.0 L280.5,328.5 L279.0,329.0 L277.6,329.4 L276.2,329.9 L274.7,330.4 L273.1,330.9 L271.5,331.4 L269.8,331.9 L267.2,332.7 L264.6,333.6 L261.8,334.5 L258.9,335.4 L255.9,336.3 L252.8,337.3 L249.7,338.3 L246.5,339.3 L243.2,340.3 L239.8,341.3 L235.2,342.7 L230.2,344.2 L224.8,345.8 L219.3,347.4 L213.8,349.0 L208.3,350.6 L203.1,352.2 L198.1,353.6 L193.7,354.8 L189.8,355.9 L188.0,356.4 L186.3,356.9 L184.7,357.3 L183.2,357.7 L181.8,358.1 L180.4,358.5 L179.1,358.8 L177.7,359.2 L176.3,359.5 L174.8,359.9 L173.3,360.3 L171.8,360.7 L170.3,361.1 L168.8,361.5 L167.3,361.9 L165.8,362.3 L164.3,362.6 L162.8,363.0 L161.3,363.3 L159.9,363.6 L158.4,363.9 L157.0,364.2 L155.5,364.5 L154.1,364.8 L152.6,365.0 L151.2,365.3 L149.8,365.5 L148.5,365.7 L147.2,365.8 L146.0,365.9 L145.1,365.9 L144.2,366.0 L143.4,366.0 L142.7,366.0 L141.9,365.9 L141.1,365.9 L140.4,365.8 L139.6,365.8 L138.9,365.7 L138.1,365.6 L137.3,365.5 L136.5,365.4 L135.7,365.2 L134.9,365.1 L134.1,364.9 L133.3,364.8 L132.5,364.6 L131.7,364.4 L130.9,364.2 L130.2,363.9 L129.6,363.7 L129.0,363.5 L128.4,363.3 L127.9,363.1 L127.3,362.8 L126.8,362.6 L126.2,362.3 L125.6,362.0 L125.0,361.7 L124.3,361.4 L123.3,360.8 L122.2,360.2 L121.0,359.6 L119.8,358.9 L118.6,358.1 L117.3,357.3 L116.1,356.6 L114.8,355.8 L113.6,355.0 L112.4,354.2 L111.2,353.3 L110.0,352.5 L108.7,351.6 L107.5,350.7 L106.3,349.8 L105.1,348.9 L103.9,348.0 L102.7,347.1 L101.6,346.2 L100.5,345.4 L99.6,344.6 L98.8,343.9 L98.0,343.2 L97.1,342.5 L96.4,341.8 L95.6,341.1 L94.9,340.4 L94.1,339.7 L93.4,339.0 L92.7,338.3 L92.1,337.6 L91.5,336.9 L90.9,336.3 L90.4,335.6 L89.8,335.0 L89.3,334.3 L88.8,333.6 L88.2,332.8 L87.7,332.1 L87.2,331.2 L86.3,329.9 L85.4,328.5 L84.5,327.0 L83.6,325.4 L82.7,323.8 L81.9,322.1 L81.0,320.4 L80.2,318.7 L79.4,317.0 L78.7,315.4 L78.1,313.9 L77.6,312.3 L77.0,310.8 L76.5,309.3 L76.1,307.7 L75.6,306.1 L75.2,304.5 L74.8,302.9 L74.4,301.3 L73.9,299.6 L73.5,297.7 L73.1,295.8 L72.7,293.7 L72.3,291.7 L71.9,289.6 L71.6,287.6 L71.2,285.5 L70.9,283.5 L70.5,281.5 L70.1,279.6 L69.8,278.0 L69.4,276.4 L69.1,274.9 L68.7,273.4 L68.3,271.9 L68.0,270.5 L67.7,269.0 L67.3,267.6 L67.0,266.1 L66.7,264.6 L66.4,263.1 L66.1,261.5 L65.8,259.9 L65.6,258.3 L65.3,256.7 L65.0,255.1 L64.8,253.5 L64.5,251.9 L64.2,250.3 L64.0,248.7Z" fill="#231815"/>
<circle cx="62.0" cy="249.0" r="2.00" fill="#231815"/>
<circle cx="339.5" cy="233.0" r="1.95" fill="#231815"/>
<path d="M95.0,277.0 L94.1,276.2 L93.2,275.5 L92.3,274.7 L91.4,274.0 L90.4,273.2 L89.5,272.4 L88.6,271.7 L87.7,270.9 L86.9,270.2 L86.0,269.5 L85.2,268.9 L84.5,268.3 L83.8,267.7 L83.0,267.1 L82.3,266.5 L81.6,265.9 L80.9,265.3 L80.1,264.8 L79.4,264.1 L78.6,263.5 L77.7,262.7 L76.7,262.0 L75.8,261.2 L74.8,260.4 L73.8,259.6 L72.8,258.7 L71.8,257.9 L70.9,257.1 L69.9,256.2 L69.0,255.4 L68.1,254.6 L67.2,253.7 L66.3,252.9 L65.4,252.0 L64.5,251.1 L63.6,250.3 L62.8,249.4 L62.0,248.6 L61.3,247.8 L60.6,247.0 L60.1,246.5 L59.7,246.0 L59.3,245.5 L58.9,245.0 L58.5,244.6 L58.1,244.1 L57.8,243.6 L57.5,243.1 L57.2,242.6 L57.0,242.0 L56.8,241.3 L56.6,240.5 L56.5,239.7 L56.4,238.9 L56.4,238.0 L56.4,237.2 L56.5,236.3 L56.6,235.4 L56.8,234.6 L57.0,233.8 L57.3,232.9 L57.7,232.0 L58.2,231.1 L58.7,230.2 L59.3,229.4 L60.0,228.5 L60.7,227.7 L61.4,226.9 L62.2,226.1 L63.0,225.4 L64.0,224.6 L65.0,223.9 L66.1,223.3 L67.2,222.6 L68.4,222.0 L69.7,221.5 L71.0,220.9 L72.3,220.4 L73.6,219.9 L75.0,219.4 L76.8,218.8 L78.6,218.2 L80.5,217.7 L82.4,217.2 L84.4,216.8 L86.5,216.3 L88.5,215.9 L90.7,215.4 L92.8,215.0 L95.0,214.5 L97.6,213.9 L100.2,213.4 L102.8,212.8 L105.4,212.3 L108.1,211.7 L110.9,211.1 L113.9,210.5 L117.0,209.8 L120.3,209.1 L123.8,208.4 L131.0,206.8 L139.5,204.9 L148.9,202.7 L159.0,200.4 L169.3,198.1 L179.4,195.8 L189.0,193.6 L197.8,191.6 L205.3,189.9 L211.2,188.5 L213.1,188.1 L214.7,187.7 L216.2,187.4 L217.6,187.1 L218.8,186.8 L220.0,186.6 L221.2,186.3 L222.4,186.0 L223.7,185.7 L225.0,185.4 L226.5,185.0 L228.0,184.6 L229.5,184.2 L230.9,183.8 L232.5,183.4 L234.0,183.0 L235.5,182.6 L237.0,182.2 L238.5,181.9 L240.0,181.6 L241.5,181.3 L243.0,181.1 L244.5,180.9 L246.1,180.7 L247.6,180.5 L249.1,180.4 L250.6,180.2 L252.1,180.1 L253.6,180.1 L255.0,180.0 L256.3,180.0 L257.5,180.0 L258.7,180.0 L259.9,180.0 L261.2,180.0 L262.3,180.1 L263.5,180.2 L264.7,180.3 L265.9,180.4 L267.0,180.5 L268.0,180.6 L269.1,180.7 L270.1,180.9 L271.1,181.0 L272.1,181.2 L273.1,181.3 L274.1,181.5 L275.0,181.7 L276.0,181.9 L277.0,182.2 L278.0,182.5 L279.0,182.8 L280.0,183.1 L280.9,183.5 L281.9,183.8 L282.9,184.2 L283.8,184.6 L284.9,185.1 L285.9,185.5 L287.0,186.0 L288.5,186.7 L290.0,187.4 L291.6,188.1 L293.2,188.9 L294.8,189.7 L296.5,190.6 L298.1,191.4 L299.9,192.3 L301.6,193.1 L303.3,194.0 L305.4,195.0 L307.6,196.1 L310.0,197.2 L312.4,198.3 L314.8,199.5 L317.1,200.6 L319.2,201.6 L321.2,202.5 L322.9,203.4 L324.3,204.0 L324.7,204.2 L325.1,204.4 L325.4,204.5 L325.7,204.7 L326.0,204.8 L326.3,204.9 L326.6,205.1 L326.9,205.2 L327.2,205.4 L327.6,205.6 L328.5,206.1 L329.5,206.6 L330.5,207.2 L331.7,207.9 L332.9,208.5 L334.1,209.3 L335.3,210.0 L336.5,210.7 L337.5,211.5 L338.5,212.2 L339.2,212.8 L339.9,213.4 L340.6,213.9 L341.3,214.5 L341.9,215.1 L342.5,215.7 L343.0,216.3 L343.5,216.9 L344.0,217.6 L344.4,218.2 L344.7,218.7 L344.9,219.3 L345.2,219.8 L345.4,220.4 L345.5,220.9 L345.7,221.5 L345.8,222.0 L345.9,222.6 L345.9,223.1 L345.9,223.7 L345.9,224.3 L345.8,224.9 L345.6,225.5 L345.4,226.1 L345.2,226.7 L345.0,227.3 L344.7,227.9 L344.5,228.5 L344.2,229.1 L343.9,229.6 L343.6,230.0 L343.4,230.5 L343.1,230.9 L342.8,231.2 L342.5,231.6 L342.1,232.0 L341.8,232.4 L341.5,232.8 L341.1,233.2 L340.8,233.6 L340.4,234.2 L340.0,234.8 L339.5,235.4 L339.1,236.1 L338.6,236.7 L338.2,237.4 L337.7,238.0 L337.2,238.6 L336.6,239.2 L336.0,239.8 L335.3,240.4 L334.5,241.0 L333.6,241.5 L332.8,242.0 L331.8,242.5 L330.9,243.0 L329.9,243.5 L329.0,243.9 L328.0,244.4 L327.0,244.8 L325.9,245.3 L324.7,245.7 L323.6,246.2 L322.4,246.6 L321.1,247.0 L319.9,247.4 L318.7,247.8 L317.4,248.2 L316.2,248.6 L315.0,249.0 L315.0,249.0 L313.0,249.6 L311.0,250.2 L309.1,250.9 L307.1,251.5 L305.1,252.1 L303.2,252.7 L301.2,253.4 L299.2,254.0 L297.1,254.6 L295.0,255.2 L292.6,255.9 L290.3,256.5 L287.9,257.1 L285.5,257.8 L283.0,258.4 L280.5,259.0 L278.0,259.7 L275.4,260.4 L272.7,261.1 L270.0,261.8 L266.5,262.8 L262.9,263.8 L259.2,264.8 L255.3,265.9 L251.5,267.0 L247.5,268.1 L243.6,269.2 L239.7,270.3 L235.8,271.4 L232.0,272.5 L228.2,273.6 L224.5,274.7 L220.6,275.8 L216.8,276.9 L213.0,278.0 L209.3,279.1 L205.6,280.2 L201.9,281.2 L198.4,282.1 L195.0,283.0 L192.3,283.7 L189.6,284.3 L187.0,284.9 L184.4,285.5 L181.8,286.0 L179.3,286.5 L176.9,287.0 L174.5,287.5 L172.2,288.0 L170.0,288.5 L168.3,288.9 L166.7,289.3 L165.1,289.7 L163.6,290.1 L162.1,290.4 L160.6,290.8 L159.2,291.1 L157.8,291.5 L156.4,291.7 L155.0,292.0 L153.9,292.2 L152.9,292.3 L151.9,292.5 L150.9,292.6 L149.9,292.7 L148.9,292.9 L147.9,293.0 L147.0,293.0 L146.0,293.1 L145.0,293.2 L144.0,293.3 L143.0,293.3 L142.0,293.4 L141.0,293.4 L140.0,293.5 L139.0,293.5 L138.0,293.5 L137.0,293.5 L136.0,293.5 L135.0,293.5 L134.0,293.5 L133.0,293.4 L132.0,293.4 L131.0,293.3 L130.0,293.2 L129.0,293.1 L128.0,293.0 L127.0,292.8 L126.0,292.7 L125.0,292.5 L124.0,292.3 L123.0,292.1 L122.0,291.8 L121.0,291.5 L120.0,291.2 L119.0,290.9 L118.0,290.6 L117.0,290.2 L116.0,289.9 L115.0,289.5 L114.0,289.1 L113.0,288.7 L112.0,288.2 L110.9,287.7 L109.9,287.2 L108.9,286.7 L108.0,286.2 L107.0,285.7 L106.0,285.1 L105.0,284.5 L104.0,283.8 L103.0,283.1 L102.0,282.4 L101.0,281.7 L100.0,280.9 L99.0,280.1 L98.0,279.3 L97.0,278.5 L96.0,277.8 L95.0,277.0Z" fill="#fff"/>
<path d="M95.6,276.3 L94.7,275.5 L93.8,274.7 L92.9,274.0 L92.0,273.2 L91.1,272.4 L90.2,271.7 L89.3,270.9 L88.4,270.2 L87.5,269.4 L86.6,268.7 L85.9,268.1 L85.1,267.5 L84.4,266.9 L83.7,266.3 L83.0,265.7 L82.3,265.1 L81.5,264.5 L80.8,263.9 L80.1,263.3 L79.3,262.7 L78.4,261.9 L77.5,261.1 L76.5,260.3 L75.6,259.4 L74.6,258.6 L73.7,257.8 L72.7,256.9 L71.8,256.1 L70.8,255.2 L69.9,254.4 L69.1,253.5 L68.2,252.6 L67.4,251.7 L66.5,250.8 L65.7,250.0 L64.8,249.1 L64.1,248.2 L63.3,247.4 L62.7,246.5 L62.0,245.8 L61.6,245.2 L61.1,244.7 L60.7,244.2 L60.3,243.8 L60.0,243.3 L59.7,242.9 L59.4,242.6 L59.2,242.2 L59.0,241.8 L58.9,241.4 L58.7,240.8 L58.6,240.2 L58.5,239.5 L58.4,238.7 L58.4,238.0 L58.4,237.3 L58.5,236.5 L58.6,235.8 L58.7,235.1 L58.9,234.4 L59.2,233.7 L59.5,232.9 L59.9,232.1 L60.4,231.3 L61.0,230.5 L61.6,229.8 L62.2,229.0 L62.9,228.3 L63.6,227.6 L64.3,226.9 L65.2,226.2 L66.1,225.6 L67.1,225.0 L68.1,224.4 L69.3,223.9 L70.5,223.3 L71.7,222.8 L73.0,222.3 L74.3,221.8 L75.7,221.3 L77.4,220.7 L79.1,220.1 L81.0,219.6 L82.9,219.2 L84.8,218.7 L86.9,218.2 L88.9,217.8 L91.1,217.3 L93.2,216.9 L95.4,216.4 L98.0,215.8 L100.6,215.2 L103.2,214.7 L105.8,214.1 L108.5,213.6 L111.3,213.0 L114.2,212.4 L117.4,211.7 L120.7,211.0 L124.2,210.2 L131.4,208.6 L139.9,206.7 L149.3,204.6 L159.4,202.3 L169.7,200.0 L179.8,197.7 L189.5,195.5 L198.2,193.5 L205.7,191.7 L211.6,190.4 L213.5,190.0 L215.1,189.6 L216.6,189.3 L218.0,189.0 L219.2,188.7 L220.4,188.4 L221.6,188.2 L222.8,187.9 L224.1,187.6 L225.5,187.3 L227.0,186.9 L228.5,186.5 L230.0,186.1 L231.5,185.7 L233.0,185.3 L234.5,184.8 L235.9,184.5 L237.4,184.1 L238.9,183.8 L240.3,183.5 L241.8,183.2 L243.3,183.0 L244.8,182.8 L246.3,182.6 L247.8,182.4 L249.3,182.3 L250.8,182.2 L252.2,182.1 L253.7,182.0 L255.1,181.9 L256.3,181.9 L257.5,181.9 L258.7,181.9 L259.9,181.9 L261.1,182.0 L262.2,182.0 L263.4,182.1 L264.5,182.2 L265.7,182.3 L266.8,182.4 L267.8,182.5 L268.8,182.7 L269.8,182.8 L270.8,182.9 L271.8,183.1 L272.7,183.2 L273.7,183.4 L274.6,183.6 L275.5,183.8 L276.5,184.1 L277.4,184.4 L278.4,184.6 L279.3,185.0 L280.2,185.3 L281.2,185.7 L282.1,186.0 L283.1,186.4 L284.1,186.9 L285.1,187.3 L286.2,187.8 L287.7,188.4 L289.2,189.1 L290.7,189.9 L292.3,190.7 L293.9,191.5 L295.6,192.3 L297.3,193.2 L299.0,194.0 L300.7,194.9 L302.5,195.7 L304.5,196.7 L306.8,197.8 L309.1,199.0 L311.5,200.1 L313.9,201.2 L316.2,202.3 L318.4,203.4 L320.4,204.3 L322.1,205.1 L323.4,205.8 L323.9,206.0 L324.3,206.2 L324.6,206.3 L324.9,206.5 L325.2,206.6 L325.4,206.7 L325.7,206.8 L326.0,207.0 L326.3,207.1 L326.7,207.3 L327.5,207.8 L328.5,208.3 L329.6,208.9 L330.7,209.6 L331.9,210.3 L333.1,211.0 L334.3,211.7 L335.4,212.4 L336.4,213.1 L337.3,213.8 L338.0,214.3 L338.7,214.9 L339.3,215.4 L339.9,216.0 L340.5,216.5 L341.0,217.1 L341.5,217.6 L342.0,218.2 L342.4,218.7 L342.7,219.2 L342.9,219.6 L343.1,220.1 L343.3,220.5 L343.5,221.0 L343.6,221.4 L343.7,221.9 L343.8,222.3 L343.9,222.8 L343.9,223.2 L343.9,223.6 L343.9,224.1 L343.8,224.5 L343.7,225.0 L343.5,225.5 L343.3,226.0 L343.1,226.6 L342.9,227.1 L342.7,227.6 L342.4,228.2 L342.1,228.6 L341.9,229.0 L341.7,229.3 L341.5,229.7 L341.3,230.0 L341.0,230.4 L340.7,230.7 L340.4,231.1 L340.0,231.5 L339.7,232.0 L339.3,232.4 L338.9,233.1 L338.5,233.8 L338.1,234.5 L337.7,235.2 L337.4,235.8 L337.0,236.5 L336.6,237.1 L336.2,237.8 L335.7,238.3 L335.2,238.9 L334.5,239.5 L333.8,240.0 L333.0,240.5 L332.2,241.0 L331.3,241.5 L330.4,242.0 L329.5,242.5 L328.5,243.0 L327.6,243.4 L326.6,243.9 L325.5,244.4 L324.4,244.8 L323.2,245.3 L322.0,245.7 L320.8,246.1 L319.6,246.5 L318.4,246.9 L317.1,247.3 L315.9,247.7 L314.7,248.1 L315.3,249.9 L316.5,249.4 L317.7,249.1 L319.0,248.7 L320.2,248.3 L321.4,247.9 L322.7,247.5 L323.9,247.1 L325.1,246.6 L326.3,246.2 L327.4,245.7 L328.4,245.3 L329.4,244.9 L330.4,244.4 L331.4,244.0 L332.4,243.5 L333.3,243.0 L334.2,242.5 L335.1,241.9 L336.0,241.3 L336.8,240.7 L337.5,240.1 L338.2,239.5 L338.8,238.9 L339.4,238.3 L339.9,237.6 L340.4,237.0 L340.9,236.4 L341.4,235.8 L341.9,235.2 L342.3,234.8 L342.6,234.4 L342.9,234.0 L343.3,233.6 L343.6,233.3 L344.0,232.9 L344.3,232.5 L344.7,232.0 L345.0,231.6 L345.3,231.1 L345.7,230.6 L346.0,230.0 L346.3,229.4 L346.5,228.8 L346.8,228.1 L347.1,227.4 L347.3,226.7 L347.5,226.0 L347.7,225.3 L347.8,224.5 L347.9,223.8 L347.9,223.1 L347.8,222.4 L347.8,221.7 L347.6,221.0 L347.5,220.4 L347.3,219.7 L347.0,219.1 L346.8,218.4 L346.5,217.8 L346.1,217.2 L345.6,216.5 L345.1,215.7 L344.5,215.0 L343.9,214.4 L343.3,213.7 L342.6,213.1 L341.9,212.4 L341.2,211.8 L340.5,211.2 L339.7,210.6 L338.7,209.9 L337.6,209.1 L336.4,208.3 L335.2,207.6 L333.9,206.8 L332.7,206.1 L331.5,205.5 L330.4,204.9 L329.4,204.3 L328.5,203.9 L328.1,203.6 L327.8,203.5 L327.4,203.3 L327.1,203.1 L326.8,203.0 L326.5,202.9 L326.2,202.8 L325.9,202.6 L325.6,202.4 L325.1,202.2 L323.8,201.6 L322.1,200.8 L320.1,199.8 L317.9,198.8 L315.6,197.7 L313.2,196.6 L310.8,195.4 L308.5,194.3 L306.2,193.2 L304.2,192.2 L302.4,191.4 L300.7,190.5 L299.0,189.7 L297.3,188.8 L295.7,188.0 L294.0,187.2 L292.4,186.4 L290.8,185.6 L289.3,184.9 L287.8,184.2 L286.7,183.7 L285.6,183.3 L284.6,182.8 L283.6,182.4 L282.6,182.0 L281.6,181.6 L280.6,181.3 L279.6,180.9 L278.6,180.6 L277.5,180.3 L276.5,180.1 L275.5,179.8 L274.4,179.6 L273.4,179.4 L272.4,179.2 L271.4,179.1 L270.3,178.9 L269.3,178.8 L268.3,178.7 L267.2,178.6 L266.0,178.5 L264.9,178.3 L263.7,178.3 L262.5,178.2 L261.2,178.1 L260.0,178.1 L258.8,178.0 L257.5,178.0 L256.2,178.0 L254.9,178.1 L253.5,178.1 L252.0,178.2 L250.5,178.3 L248.9,178.5 L247.4,178.6 L245.8,178.8 L244.3,179.0 L242.7,179.2 L241.2,179.4 L239.7,179.7 L238.1,180.0 L236.5,180.4 L235.0,180.7 L233.5,181.1 L231.9,181.5 L230.4,182.0 L228.9,182.4 L227.5,182.8 L226.0,183.2 L224.5,183.5 L223.2,183.9 L222.0,184.1 L220.8,184.4 L219.6,184.7 L218.4,185.0 L217.1,185.2 L215.8,185.5 L214.3,185.9 L212.6,186.2 L210.8,186.7 L204.9,188.0 L197.4,189.7 L188.6,191.7 L179.0,193.9 L168.8,196.2 L158.6,198.6 L148.5,200.9 L139.0,203.0 L130.6,204.9 L123.4,206.5 L119.9,207.3 L116.6,208.0 L113.5,208.6 L110.5,209.2 L107.7,209.8 L105.0,210.4 L102.4,210.9 L99.8,211.5 L97.2,212.1 L94.6,212.6 L92.4,213.1 L90.3,213.6 L88.1,214.0 L86.1,214.4 L84.0,214.9 L82.0,215.3 L80.0,215.8 L78.0,216.3 L76.1,216.9 L74.3,217.5 L72.9,218.0 L71.6,218.6 L70.2,219.1 L68.9,219.7 L67.6,220.2 L66.3,220.9 L65.1,221.5 L63.9,222.2 L62.8,223.0 L61.7,223.9 L60.8,224.7 L60.0,225.5 L59.2,226.4 L58.4,227.3 L57.7,228.2 L57.1,229.2 L56.5,230.1 L55.9,231.1 L55.5,232.2 L55.1,233.2 L54.8,234.1 L54.6,235.1 L54.5,236.1 L54.4,237.1 L54.4,238.0 L54.4,239.0 L54.5,239.9 L54.7,240.9 L54.9,241.8 L55.1,242.6 L55.4,243.4 L55.7,244.0 L56.1,244.7 L56.5,245.3 L56.9,245.8 L57.4,246.3 L57.8,246.8 L58.3,247.3 L58.7,247.7 L59.2,248.2 L59.9,249.0 L60.7,249.8 L61.5,250.6 L62.4,251.5 L63.3,252.3 L64.3,253.1 L65.2,254.0 L66.2,254.8 L67.1,255.6 L68.1,256.4 L69.0,257.3 L70.0,258.1 L71.0,258.9 L72.0,259.7 L73.0,260.5 L74.0,261.3 L75.0,262.1 L76.0,262.9 L77.0,263.6 L77.9,264.3 L78.7,265.0 L79.4,265.6 L80.2,266.2 L80.9,266.8 L81.7,267.3 L82.4,267.9 L83.1,268.5 L83.8,269.1 L84.6,269.7 L85.4,270.3 L86.2,271.0 L87.1,271.7 L88.0,272.4 L88.9,273.2 L89.8,273.9 L90.7,274.7 L91.7,275.5 L92.6,276.2 L93.5,277.0 L94.4,277.7Z" fill="#231815"/>
<circle cx="95.0" cy="277.0" r="0.95" fill="#231815"/>
<circle cx="315.0" cy="249.0" r="0.90" fill="#231815"/>
<path d="M314.7,248.1 L312.7,248.8 L310.8,249.4 L308.8,250.0 L306.9,250.7 L304.9,251.3 L302.9,251.9 L300.9,252.6 L298.9,253.2 L296.9,253.8 L294.8,254.4 L292.4,255.1 L290.1,255.7 L287.7,256.4 L285.3,257.0 L282.8,257.7 L280.3,258.3 L277.8,259.0 L275.2,259.6 L272.5,260.3 L269.8,261.1 L266.3,262.0 L262.7,263.0 L259.0,264.1 L255.1,265.2 L251.3,266.3 L247.3,267.4 L243.4,268.5 L239.5,269.6 L235.6,270.7 L231.8,271.8 L228.0,272.9 L224.2,274.0 L220.4,275.1 L216.6,276.2 L212.8,277.3 L209.1,278.4 L205.4,279.4 L201.7,280.4 L198.2,281.4 L194.8,282.3 L192.1,282.9 L189.4,283.6 L186.8,284.1 L184.2,284.7 L181.7,285.2 L179.2,285.7 L176.7,286.3 L174.4,286.7 L172.1,287.2 L169.8,287.7 L168.1,288.1 L166.5,288.5 L164.9,288.9 L163.4,289.3 L161.9,289.6 L160.4,290.0 L159.0,290.3 L157.6,290.7 L156.2,290.9 L154.9,291.2 L153.8,291.4 L152.8,291.5 L151.7,291.7 L150.8,291.8 L149.8,291.9 L148.8,292.0 L147.9,292.1 L146.9,292.2 L145.9,292.3 L144.9,292.4 L143.9,292.4 L142.9,292.5 L142.0,292.5 L141.0,292.6 L140.0,292.6 L139.0,292.7 L138.0,292.7 L137.0,292.7 L136.0,292.7 L135.0,292.6 L134.0,292.6 L133.0,292.5 L132.0,292.5 L131.1,292.4 L130.1,292.3 L129.1,292.2 L128.1,292.1 L127.1,292.0 L126.1,291.8 L125.2,291.6 L124.2,291.4 L123.2,291.2 L122.2,290.9 L121.2,290.7 L120.2,290.4 L119.2,290.1 L118.3,289.7 L117.3,289.4 L116.3,289.0 L115.3,288.7 L114.3,288.2 L113.3,287.8 L112.3,287.4 L111.3,286.9 L110.4,286.4 L109.4,285.9 L108.4,285.4 L107.4,284.9 L106.4,284.3 L105.5,283.7 L104.5,283.1 L103.5,282.4 L102.5,281.7 L101.5,280.9 L100.5,280.2 L99.6,279.4 L98.6,278.6 L97.6,277.8 L96.6,277.0 L95.6,276.2 L94.4,277.8 L95.4,278.5 L96.4,279.3 L97.4,280.1 L98.4,280.8 L99.4,281.6 L100.4,282.4 L101.4,283.2 L102.4,283.9 L103.5,284.6 L104.5,285.3 L105.5,285.9 L106.5,286.5 L107.5,287.0 L108.5,287.6 L109.5,288.1 L110.6,288.6 L111.6,289.0 L112.6,289.5 L113.6,289.9 L114.7,290.3 L115.7,290.7 L116.7,291.1 L117.7,291.4 L118.7,291.8 L119.7,292.1 L120.7,292.4 L121.7,292.7 L122.8,292.9 L123.8,293.2 L124.8,293.4 L125.8,293.6 L126.9,293.7 L127.9,293.9 L128.9,294.0 L129.9,294.1 L130.9,294.2 L131.9,294.2 L133.0,294.3 L134.0,294.3 L135.0,294.4 L136.0,294.4 L137.0,294.4 L138.0,294.4 L139.0,294.4 L140.0,294.3 L141.0,294.3 L142.0,294.2 L143.1,294.2 L144.1,294.1 L145.1,294.0 L146.1,294.0 L147.0,293.9 L148.0,293.8 L149.0,293.7 L150.0,293.6 L151.0,293.5 L152.0,293.3 L153.0,293.2 L154.1,293.0 L155.1,292.8 L156.5,292.5 L157.9,292.3 L159.3,291.9 L160.8,291.6 L162.3,291.2 L163.8,290.8 L165.3,290.5 L166.9,290.1 L168.5,289.7 L170.2,289.3 L172.4,288.8 L174.7,288.3 L177.0,287.8 L179.5,287.3 L182.0,286.8 L184.5,286.2 L187.1,285.6 L189.8,285.0 L192.5,284.4 L195.2,283.7 L198.6,282.8 L202.1,281.9 L205.8,280.9 L209.5,279.8 L213.2,278.7 L217.0,277.6 L220.9,276.5 L224.7,275.4 L228.5,274.3 L232.2,273.2 L236.0,272.1 L239.9,271.0 L243.8,269.9 L247.7,268.8 L251.7,267.7 L255.5,266.6 L259.4,265.5 L263.1,264.5 L266.7,263.5 L270.2,262.5 L272.9,261.8 L275.6,261.1 L278.2,260.4 L280.7,259.8 L283.2,259.2 L285.7,258.5 L288.1,257.9 L290.5,257.3 L292.9,256.6 L295.2,256.0 L297.3,255.4 L299.4,254.8 L301.4,254.2 L303.4,253.5 L305.4,252.9 L307.4,252.3 L309.3,251.7 L311.3,251.1 L313.3,250.5 L315.3,249.9Z" fill="#231815"/>
<circle cx="315.0" cy="249.0" r="0.90" fill="#231815"/>
<circle cx="95.0" cy="277.0" r="0.95" fill="#231815"/>
<path d="M61.2,242.2 L60.9,241.5 L60.7,240.8 L60.5,240.0 L60.4,239.3 L60.3,238.6 L60.2,237.8 L60.3,237.1 L60.3,236.4 L60.4,235.7 L60.6,235.0 L60.8,234.3 L61.2,233.6 L61.5,232.9 L62.0,232.2 L62.4,231.5 L63.0,230.9 L63.5,230.2 L64.1,229.6 L64.8,229.0 L65.4,228.4 L66.2,227.8 L67.0,227.1 L67.8,226.5 L68.7,226.0 L69.7,225.4 L70.6,224.9 L71.7,224.4 L72.7,223.9 L73.8,223.5 L75.0,223.0 L76.7,222.4 L78.4,221.9 L80.3,221.4 L82.3,221.0 L84.3,220.6 L86.4,220.2 L88.5,219.8 L90.6,219.4 L92.8,219.0 L95.0,218.5 L97.6,217.9 L100.2,217.3 L102.8,216.7 L105.4,216.1 L108.1,215.5 L110.9,214.8 L113.8,214.1 L117.0,213.4 L120.3,212.7 L123.8,211.8 L131.0,210.2 L139.5,208.3 L148.9,206.1 L159.0,203.8 L169.3,201.4 L179.4,199.1 L189.0,196.9 L197.8,194.9 L205.3,193.2 L211.2,191.9 L213.1,191.4 L214.7,191.0 L216.1,190.7 L217.5,190.4 L218.7,190.1 L219.9,189.8 L221.0,189.6 L222.3,189.3 L223.6,189.0 L225.0,188.7 L226.8,188.3 L228.8,187.9 L230.7,187.5 L232.7,187.1 L234.8,186.6 L236.8,186.2 L238.9,185.9 L240.9,185.5 L243.0,185.2 L245.0,185.0 L247.0,184.8 L249.1,184.6 L251.2,184.5 L253.3,184.4 L255.4,184.4 L257.5,184.3 L259.5,184.3 L261.4,184.4 L263.3,184.4 L265.0,184.5 L266.1,184.6 L267.2,184.7 L268.3,184.8 L269.3,184.9 L270.2,185.0 L271.2,185.2 L272.1,185.4 L273.1,185.6 L274.0,185.8 L275.0,186.0 L276.0,186.3 L277.0,186.5 L277.9,186.8 L278.9,187.1 L279.9,187.5 L280.8,187.8 L281.8,188.2 L282.8,188.6 L283.9,189.0 L285.0,189.5 L286.6,190.2 L288.3,191.0 L290.0,191.8 L291.8,192.7 L293.7,193.7 L295.5,194.7 L297.4,195.6 L299.3,196.6 L301.2,197.6 L303.0,198.5 L305.0,199.5 L307.0,200.5 L309.2,201.6 L311.4,202.7 L313.5,203.8 L315.6,204.8 L317.5,205.8 L319.2,206.7 L320.8,207.5 L322.0,208.1 L322.4,208.3 L322.7,208.5 L323.0,208.6 L323.3,208.7 L323.6,208.9 L323.8,209.0 L324.1,209.1 L324.4,209.2 L324.7,209.4 L325.0,209.6 L325.7,210.0 L326.5,210.4 L327.3,210.9 L328.2,211.4 L329.2,212.0 L330.1,212.5 L331.0,213.1 L331.9,213.7 L332.7,214.2 L333.5,214.8 L334.1,215.3 L334.7,215.7 L335.3,216.2 L335.8,216.6 L336.4,217.1 L336.9,217.6 L337.3,218.0 L337.8,218.5 L338.2,219.0 L338.5,219.5 L338.7,219.9 L339.0,220.3 L339.2,220.7 L339.3,221.1 L339.5,221.5 L339.6,221.9 L339.7,222.3 L339.8,222.7 L339.8,223.1 L339.8,223.5 L339.7,224.0 L339.6,224.6 L339.4,225.1 L339.2,225.7 L338.9,226.3 L338.5,226.8 L338.2,227.4 L337.8,227.9 L337.4,228.5 L337.0,229.0 L336.5,229.6 L335.9,230.2 L335.3,230.8 L334.7,231.4 L334.0,231.9 L333.3,232.5 L332.5,233.0 L331.7,233.5 L330.9,234.0 L330.0,234.5 L328.8,235.1 L327.5,235.7 L326.0,236.2 L324.6,236.7 L323.0,237.2 L321.5,237.6 L319.9,238.1 L318.3,238.6 L316.6,239.0 L315.0,239.5 L313.1,240.1 L311.2,240.6 L309.3,241.1 L307.3,241.7 L305.3,242.2 L303.3,242.7 L301.3,243.3 L299.2,243.8 L297.1,244.4 L295.0,245.0 L292.7,245.7 L290.4,246.4 L288.1,247.1 L285.8,247.8 L283.5,248.5 L281.1,249.2 L278.6,250.0 L275.9,250.8 L273.1,251.6 L270.0,252.5 L264.0,254.2 L256.9,256.1 L249.2,258.1 L241.0,260.3 L232.5,262.5 L224.1,264.7 L215.8,266.8 L208.1,268.8 L201.1,270.5 L195.0,272.0 L191.9,272.7 L189.1,273.4 L186.3,274.0 L183.7,274.6 L181.3,275.1 L178.9,275.6 L176.6,276.1 L174.4,276.6 L172.2,277.0 L170.0,277.5 L168.3,277.9 L166.7,278.2 L165.1,278.5 L163.6,278.9 L162.1,279.2 L160.6,279.5 L159.2,279.7 L157.8,280.0 L156.4,280.3 L155.0,280.5 L153.9,280.7 L152.9,280.8 L151.9,281.0 L150.9,281.1 L149.9,281.3 L148.9,281.4 L147.9,281.5 L147.0,281.6 L146.0,281.7 L145.0,281.8 L144.0,281.9 L143.0,282.0 L142.0,282.0 L141.0,282.1 L140.0,282.1 L139.0,282.2 L138.0,282.2 L137.0,282.2 L136.0,282.2 L135.0,282.2 L134.0,282.2 L133.0,282.2 L132.0,282.1 L131.0,282.1 L130.0,282.0 L129.0,281.9 L128.0,281.8 L127.0,281.7 L126.0,281.6 L125.0,281.5 L124.0,281.4 L123.0,281.2 L122.0,281.1 L121.0,280.9 L120.0,280.7 L119.0,280.5 L118.0,280.3 L117.0,280.0 L116.0,279.8 L115.0,279.5 L114.0,279.2 L113.0,278.9 L112.0,278.5 L111.0,278.1 L110.0,277.8 L109.0,277.3 L108.0,276.9 L107.0,276.5 L106.0,276.0 L105.0,275.5 L104.0,274.9 L103.0,274.4 L102.0,273.7 L101.0,273.1 L100.0,272.4 L99.0,271.8 L98.0,271.1 L97.0,270.4 L96.0,269.7 L95.0,269.0 L94.0,268.3 L93.0,267.6 L92.0,266.8 L90.9,266.1 L89.9,265.4 L88.9,264.6 L87.9,263.9 L86.8,263.1 L85.7,262.3 L84.6,261.5 L83.1,260.5 L81.6,259.4 L80.0,258.4 L78.3,257.3 L76.6,256.2 L74.9,255.0 L73.3,253.9 L71.8,252.8 L70.3,251.7 L69.0,250.6 L68.0,249.8 L67.1,248.9 L66.1,248.1 L65.2,247.3 L64.4,246.4 L63.6,245.6 L62.8,244.8 L62.2,243.9 L61.6,243.1Z" fill="none" stroke="#231815" stroke-width="1.55" stroke-linecap="round" stroke-linejoin="round"/>
<path d="M75.0,222.8 L74.4,223.2 L73.9,223.5 L73.3,223.9 L72.8,224.2 L72.2,224.6 L71.6,224.9 L71.1,225.3 L70.5,225.7 L70.0,226.1 L69.5,226.5 L69.0,226.9 L68.5,227.4 L68.0,227.9 L67.5,228.4 L67.0,228.9 L66.5,229.4 L66.1,229.9 L65.7,230.4 L65.3,231.0 L65.0,231.5 L64.8,232.0 L64.5,232.6 L64.4,233.1 L64.2,233.7 L64.1,234.3 L64.0,234.8 L63.9,235.4 L63.8,235.9 L63.8,236.5 L63.8,237.0 L63.8,237.4 L63.8,237.8 L63.9,238.2 L63.9,238.6 L64.0,239.0 L64.1,239.4 L64.2,239.8 L64.3,240.2 L64.6,240.6 L64.8,241.0 L65.4,241.7 L66.1,242.5 L67.1,243.3 L68.1,244.1 L69.2,244.8 L70.4,245.6 L71.6,246.4 L72.8,247.2 L73.9,248.0 L75.0,248.7 L76.0,249.4 L77.0,250.1 L78.0,250.8 L79.0,251.5 L80.0,252.1 L81.0,252.8 L82.0,253.5 L83.0,254.1 L84.0,254.8 L85.0,255.5 L86.0,256.2 L87.0,256.9 L88.0,257.6 L89.0,258.3 L90.0,259.0 L91.0,259.7 L92.0,260.4 L93.0,261.1 L94.0,261.8 L95.0,262.5 L96.0,263.2 L97.0,263.9 L98.0,264.7 L99.0,265.4 L100.0,266.1 L101.0,266.8 L102.0,267.5 L103.0,268.2 L104.0,268.9 L105.0,269.5 L106.0,270.1 L107.0,270.7 L108.0,271.2 L108.9,271.8 L109.9,272.3 L110.9,272.8 L112.0,273.3 L113.0,273.7 L114.0,274.1 L115.0,274.5 L116.0,274.8 L117.0,275.1 L118.0,275.3 L119.0,275.6 L120.0,275.8 L121.0,275.9 L122.0,276.1 L123.0,276.2 L124.0,276.4 L125.0,276.5 L126.0,276.6 L127.0,276.7 L128.0,276.8 L129.0,276.9 L130.0,276.9 L131.0,276.9 L132.0,277.0 L133.0,277.0 L134.0,277.0 L135.0,277.0 L136.0,277.0 L137.0,277.0 L138.0,277.0 L139.0,276.9 L140.0,276.9 L141.0,276.8 L142.0,276.8 L143.0,276.7 L144.0,276.6 L145.0,276.5 L146.0,276.4 L147.0,276.3 L147.9,276.2 L148.9,276.0 L149.9,275.9 L150.9,275.7 L151.9,275.5 L152.9,275.4 L153.9,275.2 L155.0,275.0 L156.4,274.8 L157.7,274.5 L159.2,274.2 L160.6,273.9 L162.1,273.6 L163.6,273.3 L165.1,273.0 L166.7,272.7 L168.3,272.3 L170.0,272.0 L172.2,271.5 L174.4,271.1 L176.6,270.6 L178.9,270.1 L181.3,269.6 L183.7,269.1 L186.3,268.5 L189.1,267.9 L191.9,267.2 L195.0,266.5 L201.1,265.0 L208.1,263.2 L215.8,261.2 L224.0,259.1 L232.5,256.9 L241.0,254.7 L249.2,252.5 L256.9,250.4 L263.9,248.6 L270.0,247.0 L273.1,246.2 L275.9,245.5 L278.6,244.8 L281.1,244.1 L283.5,243.5 L285.8,242.9 L288.1,242.3 L290.4,241.7 L292.7,241.1 L295.0,240.5 L297.1,239.9 L299.2,239.4 L301.3,238.8 L303.3,238.3 L305.4,237.7 L307.4,237.2 L309.3,236.6 L311.3,236.1 L313.2,235.5 L315.0,235.0 L316.5,234.5 L318.0,234.1 L319.4,233.6 L320.8,233.2 L322.2,232.7 L323.5,232.3 L324.9,231.8 L326.2,231.4 L327.6,230.9 L329.0,230.5" fill="none" stroke="#231815" stroke-width="1.55" stroke-linecap="round" stroke-linejoin="round"/>
<path d="M68.5,241.3 L69.6,240.8 L70.8,240.4 L71.9,239.9 L73.0,239.5 L74.1,239.0 L75.3,238.6 L76.4,238.1 L77.6,237.7 L78.8,237.2 L80.0,236.8 L81.4,236.3 L82.8,235.9 L84.2,235.5 L85.6,235.1 L87.1,234.6 L88.5,234.2 L90.1,233.8 L91.6,233.4 L93.3,233.0 L95.0,232.5 L97.4,231.9 L99.9,231.2 L102.5,230.6 L105.1,230.0 L107.8,229.3 L110.7,228.7 L113.7,228.0 L116.9,227.2 L120.2,226.4 L123.8,225.6 L131.0,223.9 L139.5,221.9 L148.9,219.7 L159.0,217.4 L169.3,215.0 L179.4,212.6 L189.0,210.4 L197.8,208.3 L205.3,206.6 L211.2,205.2 L213.1,204.8 L214.7,204.4 L216.1,204.1 L217.5,203.7 L218.7,203.4 L219.9,203.2 L221.0,202.9 L222.3,202.6 L223.6,202.3 L225.0,202.0 L226.9,201.6 L228.9,201.2 L230.9,200.7 L233.1,200.3 L235.2,199.8 L237.3,199.4 L239.4,199.0 L241.4,198.6 L243.3,198.3 L245.0,198.0 L246.1,197.8 L247.2,197.7 L248.2,197.5 L249.2,197.4 L250.2,197.3 L251.2,197.2 L252.1,197.1 L253.1,197.1 L254.0,197.0 L255.0,197.0 L256.0,197.0 L257.0,197.0 L258.0,197.0 L259.1,197.0 L260.1,197.0 L261.1,197.1 L262.1,197.2 L263.1,197.3 L264.1,197.4 L265.0,197.5 L265.8,197.6 L266.6,197.8 L267.4,197.9 L268.2,198.1 L269.0,198.3 L269.7,198.5 L270.5,198.7 L271.3,199.0 L272.1,199.2 L273.0,199.5 L274.1,199.9 L275.2,200.3 L276.4,200.7 L277.5,201.2 L278.7,201.7 L279.9,202.2 L281.1,202.8 L282.4,203.3 L283.7,203.9 L285.0,204.5 L286.7,205.3 L288.5,206.1 L290.3,206.9 L292.2,207.8 L294.1,208.7 L296.0,209.6 L298.0,210.6 L300.0,211.5 L302.0,212.5 L304.1,213.5 L306.6,214.7 L309.4,216.0 L312.3,217.4 L315.2,218.9 L318.2,220.3 L321.0,221.7 L323.7,223.0 L326.1,224.2 L328.2,225.2 L329.9,226.0 L330.5,226.3 L331.0,226.5 L331.4,226.7 L331.8,226.9 L332.2,227.1 L332.5,227.3 L332.9,227.5 L333.2,227.6 L333.6,227.8 L334.0,228.0" fill="none" stroke="#231815" stroke-width="1.55" stroke-linecap="round" stroke-linejoin="round"/>
<path d="M73.5,245.2 L74.3,244.9 L75.2,244.6 L76.0,244.2 L76.8,243.9 L77.6,243.6 L78.5,243.3 L79.3,242.9 L80.2,242.6 L81.1,242.3 L82.0,242.0 L83.2,241.6 L84.3,241.3 L85.5,240.9 L86.7,240.6 L88.0,240.3 L89.3,240.0 L90.6,239.6 L92.0,239.3 L93.5,238.9 L95.0,238.5 L97.3,237.9 L99.8,237.3 L102.3,236.7 L105.0,236.0 L107.7,235.3 L110.6,234.6 L113.7,233.9 L116.9,233.1 L120.2,232.3 L123.8,231.4 L131.0,229.7 L139.5,227.7 L148.9,225.5 L159.0,223.1 L169.3,220.7 L179.4,218.3 L189.0,216.0 L197.8,213.9 L205.3,212.2 L211.2,210.8 L213.1,210.3 L214.7,209.9 L216.1,209.6 L217.5,209.3 L218.7,209.0 L219.9,208.7 L221.0,208.4 L222.3,208.1 L223.6,207.8 L225.0,207.5 L226.9,207.1 L228.9,206.7 L230.9,206.2 L233.1,205.8 L235.2,205.3 L237.3,204.9 L239.4,204.5 L241.4,204.1 L243.3,203.8 L245.0,203.5 L246.1,203.3 L247.2,203.2 L248.2,203.0 L249.2,202.9 L250.2,202.8 L251.2,202.7 L252.1,202.6 L253.1,202.5 L254.0,202.5 L255.0,202.5 L256.0,202.5 L257.0,202.5 L258.0,202.6 L259.0,202.6 L260.0,202.7 L261.0,202.8 L262.0,203.0 L263.0,203.1 L264.0,203.3 L265.0,203.5 L266.0,203.7 L267.0,204.0 L268.0,204.3 L269.0,204.7 L270.0,205.0 L271.0,205.4 L272.0,205.8 L273.0,206.2 L274.0,206.6 L275.0,207.0 L276.0,207.4 L277.0,207.8 L277.9,208.2 L278.9,208.6 L279.8,209.0 L280.8,209.4 L281.8,209.9 L282.8,210.3 L283.9,210.8 L285.0,211.3 L286.5,212.0 L288.2,212.8 L289.8,213.5 L291.5,214.4 L293.3,215.2 L295.1,216.1 L296.9,217.0 L298.8,217.8 L300.6,218.7 L302.5,219.6 L304.7,220.6 L307.0,221.6 L309.5,222.7 L312.0,223.9 L314.5,225.0 L316.9,226.1 L319.2,227.1 L321.3,228.0 L323.1,228.8 L324.5,229.4 L325.0,229.7 L325.4,229.8 L325.8,230.0 L326.1,230.2 L326.4,230.3 L326.8,230.4 L327.1,230.6 L327.4,230.7 L327.7,230.9 L328.0,231.0" fill="none" stroke="#231815" stroke-width="1.55" stroke-linecap="round" stroke-linejoin="round"/>
<path d="M323.2,155.3 L323.6,155.8 L324.0,156.3 L324.5,156.7 L324.9,157.2 L325.3,157.7 L325.8,158.1 L326.2,158.6 L326.6,159.1 L327.1,159.6 L327.5,160.0 L328.0,160.5 L328.4,160.9 L328.9,161.4 L329.3,161.8 L329.7,162.3 L330.2,162.7 L330.6,163.1 L331.1,163.6 L331.5,164.0 L332.0,164.5 L332.5,165.0 L333.1,165.6 L333.7,166.1 L334.2,166.7 L334.8,167.2 L335.3,167.7 L335.8,168.2 L336.3,168.7 L336.7,169.1 L337.1,169.6 L337.5,170.1 L338.0,170.6 L338.4,171.0 L338.7,171.5 L339.0,171.9 L339.3,172.2 L339.5,172.5 L339.6,172.8 L339.7,172.9 L339.8,173.1 L339.8,173.2 L339.9,173.5 L339.9,173.7 L340.0,173.9 L340.0,174.2 L340.0,174.4 L340.0,174.6 L340.0,174.7 L339.9,174.9 L339.9,174.9 L339.9,175.0 L339.9,175.1 L339.7,175.3 L339.6,175.6 L339.3,175.9 L339.1,176.2 L338.8,176.5 L338.4,176.8 L338.1,177.2 L337.8,177.4 L337.5,177.6 L337.2,177.8 L336.9,178.0 L336.5,178.2 L336.0,178.5 L335.5,178.7 L335.0,178.9 L334.5,179.1 L333.9,179.4 L333.3,179.6 L332.9,179.8 L332.5,180.0 L332.1,180.2 L331.6,180.3 L331.2,180.5 L330.7,180.6 L330.2,180.8 L329.7,181.0 L329.1,181.2 L328.5,181.5 L327.6,181.8 L326.7,182.2 L325.7,182.6 L324.7,183.0 L323.7,183.5 L322.7,183.9 L321.7,184.3 L320.6,184.7 L319.6,185.1 L318.7,185.5 L317.7,185.9 L316.8,186.3 L315.8,186.7 L314.8,187.0 L313.9,187.4 L312.9,187.8 L311.9,188.1 L311.0,188.5 L310.0,188.8 L309.0,189.1 L308.1,189.5 L307.2,189.8 L306.2,190.2 L305.3,190.5 L304.3,190.8 L303.3,191.2 L302.3,191.5 L301.4,191.8 L300.4,192.1 L299.4,192.5 L298.4,192.8 L297.4,193.1 L296.4,193.4 L295.4,193.6 L294.4,193.9 L293.4,194.2 L292.4,194.5 L291.4,194.8 L290.5,195.1 L289.5,195.4 L288.5,195.7 L287.5,196.0 L286.5,196.3 L285.5,196.7 L284.5,197.0 L283.5,197.3 L282.5,197.6 L281.5,197.9 L280.5,198.2 L279.6,198.5 L278.6,198.8 L277.6,199.0 L276.7,199.3 L275.7,199.5 L274.7,199.8 L273.7,200.1 L272.8,200.3 L271.7,200.6 L270.7,200.9 L269.6,201.1 L268.2,201.5 L266.7,201.9 L265.2,202.3 L263.6,202.7 L262.0,203.1 L260.4,203.5 L258.9,203.9 L257.4,204.3 L255.9,204.6 L254.6,205.0 L253.7,205.2 L252.9,205.4 L252.1,205.6 L251.4,205.8 L250.7,206.0 L250.0,206.2 L249.2,206.4 L248.3,206.6 L247.3,206.8 L246.2,207.1 L242.5,208.1 L237.8,209.3 L232.2,210.7 L226.0,212.3 L219.6,213.9 L213.2,215.5 L207.1,217.1 L201.5,218.5 L196.7,219.7 L193.0,220.7 L191.9,221.0 L190.9,221.2 L190.0,221.4 L189.3,221.6 L188.5,221.8 L187.8,222.0 L187.1,222.2 L186.3,222.4 L185.5,222.6 L184.6,222.8 L183.3,223.2 L181.9,223.5 L180.4,223.9 L178.9,224.3 L177.4,224.7 L175.8,225.1 L174.3,225.4 L172.7,225.8 L171.2,226.2 L169.7,226.5 L168.2,226.9 L166.6,227.2 L165.1,227.5 L163.6,227.8 L162.0,228.2 L160.5,228.5 L159.0,228.7 L157.5,229.0 L156.1,229.3 L154.7,229.5 L153.7,229.7 L152.6,229.9 L151.6,230.1 L150.6,230.2 L149.7,230.4 L148.7,230.5 L147.7,230.6 L146.8,230.8 L145.8,230.9 L144.8,231.0 L143.8,231.1 L142.8,231.2 L141.8,231.3 L140.8,231.4 L139.8,231.5 L138.8,231.6 L137.8,231.6 L136.9,231.7 L135.9,231.7 L135.0,231.7 L134.2,231.7 L133.4,231.6 L132.6,231.6 L131.8,231.5 L131.0,231.5 L130.3,231.4 L129.5,231.3 L128.7,231.2 L128.0,231.1 L127.2,231.0 L126.5,230.8 L125.9,230.7 L125.2,230.6 L124.5,230.4 L123.9,230.3 L123.2,230.1 L122.6,229.9 L121.9,229.8 L121.2,229.6 L120.5,229.4 L119.6,229.1 L118.6,228.8 L117.7,228.4 L116.7,228.1 L115.7,227.7 L114.7,227.4 L113.8,227.0 L112.8,226.6 L111.8,226.2 L110.9,225.8 L109.9,225.3 L109.0,224.8 L108.0,224.3 L107.1,223.7 L106.1,223.2 L105.2,222.6 L104.2,222.1 L103.3,221.5 L102.4,221.0 L101.5,220.4 L100.7,219.9 L99.9,219.4 L99.1,219.0 L98.3,218.5 L97.6,218.0 L96.8,217.5 L96.1,217.1 L95.4,216.6 L94.7,216.1 L94.0,215.6 L93.3,215.2 L92.7,214.8 L92.1,214.4 L91.6,214.0 L91.0,213.6 L90.4,213.2 L89.9,212.8 L89.3,212.3 L88.6,211.9 L88.0,211.4 L86.9,210.6 L85.8,209.7 L84.6,208.8 L83.4,207.9 L82.1,206.9 L80.8,205.9 L79.6,204.9 L78.3,203.8 L77.2,202.8 L76.0,201.8 L75.0,200.9 L73.9,199.9 L72.8,198.9 L71.8,197.9 L70.8,196.9 L69.8,195.9 L68.8,194.9 L67.9,194.0 L67.1,193.1 L66.4,192.3 L65.9,191.7 L65.5,191.1 L65.1,190.6 L64.7,190.1 L64.3,189.6 L64.0,189.2 L63.8,188.8 L63.6,188.4 L63.4,188.1 L63.3,187.7 L63.2,187.5 L63.1,187.2 L63.0,186.9 L62.9,186.7 L62.9,186.4 L62.8,186.2 L62.8,185.9 L62.8,185.7 L62.8,185.4 L62.8,185.1 L62.8,184.7 L62.9,184.2 L62.9,183.7 L63.0,183.2 L63.1,182.7 L63.2,182.2 L63.4,181.8 L63.5,181.3 L63.7,181.0 L63.8,180.7 L64.0,180.4 L64.3,180.0 L64.5,179.7 L64.9,179.3 L65.2,179.0 L65.6,178.6 L66.0,178.3 L66.4,177.9 L66.8,177.6 L67.2,177.4 L67.7,177.1 L68.2,176.9 L68.7,176.7 L69.3,176.5 L70.0,176.3 L70.8,176.1 L71.5,175.9 L72.4,175.7 L73.2,175.5 L74.1,175.3 L74.9,175.1 L75.6,175.0 L76.4,174.8 L77.2,174.7 L78.1,174.5 L78.9,174.4 L79.9,174.2 L80.8,174.0 L81.9,173.8 L83.0,173.6 L84.5,173.3 L86.2,172.9 L88.0,172.5 L89.8,172.1 L91.7,171.6 L93.6,171.2 L95.5,170.7 L97.3,170.3 L99.2,169.9 L101.0,169.5 L102.8,169.1 L104.6,168.7 L106.4,168.3 L108.1,168.0 L109.9,167.6 L111.7,167.2 L113.5,166.8 L115.3,166.5 L117.1,166.1 L118.9,165.7 L117.1,156.7 L115.3,157.1 L113.5,157.5 L111.7,157.8 L109.9,158.2 L108.1,158.6 L106.3,159.0 L104.4,159.3 L102.6,159.7 L100.8,160.1 L99.0,160.5 L97.1,160.9 L95.3,161.4 L93.4,161.8 L91.4,162.3 L89.6,162.8 L87.7,163.2 L85.9,163.7 L84.2,164.1 L82.6,164.5 L81.0,164.8 L80.1,165.0 L79.2,165.2 L78.2,165.4 L77.4,165.5 L76.5,165.7 L75.6,165.9 L74.7,166.0 L73.8,166.2 L72.8,166.5 L71.9,166.7 L71.1,166.9 L70.3,167.1 L69.4,167.3 L68.5,167.6 L67.6,167.8 L66.6,168.1 L65.7,168.4 L64.7,168.8 L63.7,169.3 L62.8,169.8 L62.0,170.3 L61.2,170.8 L60.5,171.4 L59.8,172.0 L59.1,172.6 L58.4,173.3 L57.8,174.0 L57.2,174.7 L56.7,175.5 L56.2,176.3 L55.7,177.2 L55.3,178.1 L55.0,179.0 L54.7,179.9 L54.5,180.7 L54.3,181.6 L54.2,182.5 L54.1,183.3 L54.0,184.1 L54.0,184.9 L54.0,185.6 L54.0,186.2 L54.1,186.9 L54.2,187.5 L54.3,188.2 L54.5,188.8 L54.6,189.4 L54.8,190.0 L55.1,190.6 L55.3,191.3 L55.7,192.0 L56.1,192.7 L56.5,193.4 L57.0,194.1 L57.5,194.7 L58.0,195.3 L58.5,195.9 L59.0,196.5 L59.5,197.1 L60.0,197.7 L60.8,198.7 L61.7,199.7 L62.7,200.8 L63.7,201.8 L64.8,202.9 L65.9,204.0 L67.0,205.0 L68.1,206.1 L69.3,207.2 L70.4,208.2 L71.6,209.2 L72.9,210.3 L74.2,211.4 L75.5,212.5 L76.8,213.6 L78.1,214.6 L79.4,215.6 L80.7,216.5 L81.9,217.4 L83.0,218.2 L83.8,218.8 L84.5,219.2 L85.2,219.7 L85.9,220.1 L86.6,220.5 L87.3,220.9 L87.9,221.2 L88.6,221.6 L89.3,222.0 L90.0,222.4 L90.8,222.8 L91.7,223.2 L92.5,223.6 L93.3,223.9 L94.2,224.3 L95.0,224.7 L95.9,225.1 L96.8,225.5 L97.7,225.8 L98.5,226.2 L99.5,226.6 L100.5,227.0 L101.6,227.4 L102.6,227.9 L103.7,228.3 L104.8,228.7 L105.8,229.1 L106.9,229.5 L108.0,229.9 L109.1,230.2 L110.2,230.6 L111.2,230.9 L112.3,231.2 L113.4,231.5 L114.4,231.8 L115.5,232.1 L116.5,232.4 L117.6,232.6 L118.6,232.8 L119.5,233.0 L120.3,233.2 L121.0,233.4 L121.8,233.5 L122.5,233.6 L123.2,233.8 L123.9,233.9 L124.6,234.0 L125.3,234.1 L126.0,234.2 L126.8,234.2 L127.6,234.3 L128.4,234.4 L129.2,234.5 L130.0,234.5 L130.8,234.6 L131.6,234.6 L132.4,234.7 L133.3,234.7 L134.1,234.7 L135.0,234.7 L136.0,234.7 L137.0,234.7 L138.0,234.6 L139.0,234.6 L140.0,234.5 L141.1,234.4 L142.1,234.3 L143.1,234.2 L144.2,234.1 L145.2,234.0 L146.2,233.9 L147.2,233.8 L148.1,233.6 L149.1,233.5 L150.1,233.3 L151.1,233.2 L152.1,233.0 L153.1,232.8 L154.2,232.7 L155.3,232.5 L156.6,232.2 L158.1,232.0 L159.6,231.7 L161.1,231.4 L162.6,231.1 L164.2,230.8 L165.7,230.5 L167.3,230.1 L168.8,229.8 L170.3,229.5 L171.9,229.1 L173.4,228.8 L175.0,228.4 L176.6,228.0 L178.1,227.6 L179.7,227.2 L181.2,226.8 L182.7,226.5 L184.0,226.1 L185.4,225.8 L186.3,225.5 L187.1,225.3 L187.8,225.2 L188.6,225.0 L189.3,224.8 L190.0,224.6 L190.8,224.4 L191.7,224.2 L192.7,223.9 L193.8,223.7 L197.4,222.7 L202.2,221.5 L207.8,220.1 L214.0,218.5 L220.4,216.9 L226.8,215.3 L233.0,213.7 L238.5,212.3 L243.3,211.1 L247.0,210.1 L248.1,209.9 L249.1,209.6 L250.0,209.4 L250.8,209.2 L251.5,209.0 L252.2,208.8 L252.9,208.7 L253.7,208.5 L254.5,208.3 L255.4,208.0 L256.7,207.7 L258.2,207.3 L259.7,207.0 L261.2,206.6 L262.8,206.2 L264.4,205.8 L266.0,205.4 L267.5,205.0 L269.0,204.6 L270.4,204.3 L271.5,204.0 L272.5,203.8 L273.5,203.5 L274.5,203.3 L275.5,203.1 L276.5,202.8 L277.5,202.6 L278.5,202.4 L279.4,202.1 L280.4,201.9 L281.5,201.7 L282.5,201.4 L283.5,201.2 L284.5,201.0 L285.5,200.7 L286.5,200.5 L287.5,200.3 L288.5,200.0 L289.5,199.8 L290.5,199.6 L291.5,199.4 L292.5,199.2 L293.6,199.0 L294.6,198.7 L295.6,198.5 L296.6,198.3 L297.6,198.1 L298.6,197.9 L299.6,197.7 L300.6,197.5 L301.6,197.4 L302.7,197.2 L303.7,197.1 L304.7,196.9 L305.7,196.8 L306.8,196.6 L307.8,196.4 L308.8,196.3 L309.9,196.1 L311.0,195.9 L312.0,195.6 L313.0,195.4 L314.1,195.1 L315.1,194.8 L316.2,194.5 L317.2,194.3 L318.2,194.0 L319.3,193.7 L320.3,193.4 L321.3,193.1 L322.4,192.7 L323.5,192.4 L324.6,192.0 L325.7,191.6 L326.7,191.2 L327.8,190.8 L328.8,190.5 L329.7,190.1 L330.7,189.8 L331.5,189.5 L332.0,189.4 L332.5,189.2 L333.0,189.0 L333.5,188.9 L334.0,188.7 L334.5,188.6 L335.0,188.4 L335.6,188.2 L336.1,188.0 L336.7,187.8 L337.2,187.6 L337.8,187.3 L338.4,187.1 L339.0,186.9 L339.7,186.6 L340.4,186.3 L341.1,185.9 L341.8,185.5 L342.5,185.1 L343.2,184.6 L343.8,184.1 L344.4,183.6 L345.0,183.1 L345.6,182.6 L346.2,182.0 L346.7,181.3 L347.3,180.6 L347.8,179.9 L348.3,179.0 L348.7,178.1 L348.9,177.2 L349.1,176.4 L349.3,175.5 L349.3,174.7 L349.3,173.9 L349.3,173.1 L349.2,172.3 L349.1,171.5 L348.9,170.7 L348.6,169.9 L348.3,169.0 L347.8,168.1 L347.3,167.4 L346.8,166.7 L346.3,166.0 L345.8,165.4 L345.3,164.9 L344.8,164.4 L344.4,163.9 L343.9,163.4 L343.3,162.8 L342.7,162.2 L342.1,161.6 L341.5,161.1 L340.8,160.5 L340.2,160.0 L339.6,159.5 L339.1,159.0 L338.5,158.6 L338.0,158.1 L337.5,157.7 L337.1,157.2 L336.6,156.8 L336.2,156.4 L335.7,156.0 L335.3,155.6 L334.8,155.2 L334.4,154.8 L333.9,154.4 L333.5,154.0 L333.0,153.5 L332.6,153.1 L332.1,152.7 L331.6,152.3 L331.2,151.9 L330.7,151.4 L330.2,151.0 L329.8,150.5 L329.3,150.1 L328.8,149.7Z" fill="#231815"/>
<circle cx="326.0" cy="152.5" r="4.00" fill="#231815"/>
<circle cx="118.0" cy="161.2" r="4.60" fill="#231815"/>
<path d="M326.0,152.5 L326.4,153.0 L326.9,153.4 L327.3,153.9 L327.8,154.3 L328.2,154.8 L328.7,155.2 L329.1,155.7 L329.6,156.1 L330.0,156.6 L330.5,157.0 L330.9,157.4 L331.4,157.9 L331.8,158.3 L332.3,158.7 L332.7,159.1 L333.2,159.6 L333.6,160.0 L334.1,160.4 L334.5,160.9 L335.0,161.3 L335.5,161.8 L336.1,162.3 L336.7,162.8 L337.2,163.3 L337.8,163.8 L338.4,164.4 L338.9,164.9 L339.5,165.4 L340.0,166.0 L340.5,166.5 L340.9,167.0 L341.4,167.5 L341.8,168.0 L342.2,168.5 L342.7,168.9 L343.1,169.4 L343.4,169.9 L343.7,170.5 L344.0,171.0 L344.2,171.5 L344.3,172.0 L344.5,172.5 L344.6,173.0 L344.6,173.5 L344.7,174.0 L344.7,174.5 L344.6,175.0 L344.5,175.5 L344.4,176.0 L344.3,176.5 L344.1,177.0 L343.8,177.5 L343.5,178.0 L343.1,178.5 L342.8,178.9 L342.3,179.4 L341.9,179.8 L341.4,180.2 L341.0,180.6 L340.5,181.0 L340.0,181.4 L339.5,181.7 L339.0,182.0 L338.4,182.3 L337.8,182.5 L337.3,182.8 L336.7,183.0 L336.1,183.2 L335.6,183.5 L335.0,183.7 L334.5,183.9 L334.0,184.1 L333.5,184.3 L333.1,184.4 L332.6,184.6 L332.1,184.8 L331.6,184.9 L331.1,185.1 L330.6,185.3 L330.0,185.5 L329.1,185.8 L328.2,186.2 L327.3,186.6 L326.2,186.9 L325.2,187.3 L324.2,187.8 L323.1,188.2 L322.1,188.6 L321.0,188.9 L320.0,189.3 L319.0,189.6 L318.0,190.0 L317.0,190.3 L316.0,190.7 L315.0,191.0 L314.0,191.3 L313.0,191.6 L312.0,191.9 L311.0,192.2 L310.0,192.5 L309.0,192.8 L308.0,193.0 L307.0,193.3 L306.0,193.5 L305.0,193.8 L304.0,194.0 L303.0,194.3 L302.0,194.5 L301.0,194.8 L300.0,195.0 L299.0,195.2 L298.0,195.5 L297.0,195.7 L296.0,196.0 L295.0,196.2 L294.0,196.5 L293.0,196.7 L292.0,197.0 L291.0,197.2 L290.0,197.5 L289.0,197.8 L288.0,198.0 L287.0,198.3 L286.0,198.6 L285.0,198.8 L284.0,199.1 L283.0,199.4 L282.0,199.7 L281.0,199.9 L280.0,200.2 L279.0,200.5 L278.0,200.7 L277.1,200.9 L276.1,201.2 L275.1,201.4 L274.1,201.7 L273.1,201.9 L272.1,202.2 L271.1,202.4 L270.0,202.7 L268.6,203.1 L267.1,203.4 L265.6,203.8 L264.0,204.2 L262.4,204.6 L260.8,205.0 L259.3,205.4 L257.8,205.8 L256.3,206.2 L255.0,206.5 L254.1,206.7 L253.3,206.9 L252.5,207.1 L251.8,207.3 L251.1,207.5 L250.4,207.7 L249.6,207.9 L248.7,208.1 L247.7,208.4 L246.6,208.6 L242.9,209.6 L238.2,210.8 L232.6,212.2 L226.4,213.8 L220.0,215.4 L213.6,217.0 L207.4,218.6 L201.8,220.0 L197.1,221.2 L193.4,222.2 L192.3,222.4 L191.3,222.7 L190.4,222.9 L189.6,223.1 L188.9,223.3 L188.2,223.5 L187.5,223.7 L186.7,223.9 L185.9,224.1 L185.0,224.3 L183.7,224.6 L182.3,225.0 L180.8,225.4 L179.3,225.7 L177.8,226.1 L176.2,226.5 L174.6,226.9 L173.1,227.3 L171.5,227.7 L170.0,228.0 L168.5,228.3 L167.0,228.7 L165.4,229.0 L163.9,229.3 L162.3,229.6 L160.8,229.9 L159.3,230.2 L157.8,230.5 L156.4,230.8 L155.0,231.0 L153.9,231.2 L152.9,231.4 L151.9,231.5 L150.9,231.7 L149.9,231.9 L148.9,232.0 L147.9,232.1 L147.0,232.3 L146.0,232.4 L145.0,232.5 L144.0,232.6 L143.0,232.7 L142.0,232.8 L140.9,232.9 L139.9,233.0 L138.9,233.1 L137.9,233.1 L136.9,233.2 L136.0,233.2 L135.0,233.2 L134.2,233.2 L133.3,233.2 L132.5,233.1 L131.7,233.1 L130.9,233.0 L130.1,233.0 L129.3,232.9 L128.5,232.8 L127.8,232.7 L127.0,232.6 L126.3,232.5 L125.6,232.4 L124.9,232.3 L124.2,232.2 L123.5,232.0 L122.9,231.9 L122.2,231.7 L121.5,231.6 L120.7,231.4 L120.0,231.2 L119.1,231.0 L118.1,230.7 L117.1,230.4 L116.1,230.1 L115.1,229.8 L114.1,229.5 L113.0,229.1 L112.0,228.8 L111.0,228.4 L110.0,228.0 L109.0,227.6 L108.0,227.2 L106.9,226.7 L105.9,226.2 L104.9,225.7 L103.9,225.3 L102.9,224.8 L101.9,224.3 L100.9,223.8 L100.0,223.3 L99.2,222.9 L98.3,222.4 L97.5,222.0 L96.7,221.6 L95.9,221.2 L95.1,220.7 L94.3,220.3 L93.5,219.9 L92.8,219.4 L92.0,219.0 L91.3,218.6 L90.7,218.2 L90.0,217.8 L89.4,217.4 L88.8,217.1 L88.2,216.6 L87.6,216.2 L86.9,215.8 L86.2,215.3 L85.5,214.8 L84.4,214.0 L83.2,213.1 L82.0,212.2 L80.8,211.2 L79.5,210.2 L78.2,209.2 L76.9,208.1 L75.6,207.1 L74.4,206.0 L73.2,205.0 L72.1,204.0 L71.0,203.0 L69.9,202.0 L68.8,200.9 L67.8,199.9 L66.8,198.9 L65.8,197.8 L64.8,196.9 L64.0,195.9 L63.2,195.0 L62.7,194.4 L62.2,193.8 L61.8,193.3 L61.3,192.7 L60.9,192.2 L60.5,191.6 L60.2,191.1 L59.8,190.6 L59.6,190.0 L59.3,189.5 L59.1,189.1 L59.0,188.6 L58.8,188.2 L58.7,187.7 L58.6,187.3 L58.5,186.9 L58.5,186.4 L58.4,186.0 L58.4,185.5 L58.4,185.0 L58.4,184.4 L58.5,183.7 L58.6,183.1 L58.7,182.4 L58.8,181.7 L59.0,181.0 L59.2,180.4 L59.4,179.7 L59.7,179.1 L60.0,178.5 L60.4,177.9 L60.7,177.4 L61.2,176.8 L61.6,176.3 L62.2,175.8 L62.7,175.3 L63.2,174.8 L63.8,174.4 L64.4,174.0 L65.0,173.6 L65.7,173.2 L66.4,172.9 L67.2,172.6 L68.0,172.3 L68.8,172.1 L69.6,171.8 L70.5,171.6 L71.3,171.4 L72.2,171.2 L73.0,171.0 L73.9,170.8 L74.7,170.6 L75.6,170.4 L76.4,170.3 L77.3,170.1 L78.1,169.9 L79.1,169.8 L80.0,169.6 L81.0,169.4 L82.0,169.2 L83.6,168.9 L85.2,168.5 L86.9,168.1 L88.8,167.6 L90.6,167.2 L92.5,166.7 L94.4,166.3 L96.3,165.8 L98.2,165.4 L100.0,165.0 L101.8,164.6 L103.6,164.2 L105.4,163.8 L107.2,163.5 L109.0,163.1 L110.8,162.7 L112.6,162.3 L114.4,162.0 L116.2,161.6 L118.0,161.2" fill="none" stroke="#fff" stroke-width="0.8" stroke-linejoin="round"/>
<path d="M45.5,111.0 L45.5,110.4 L45.6,109.8 L45.6,109.2 L45.7,108.6 L45.8,107.9 L45.9,107.2 L46.0,106.6 L46.1,105.9 L46.3,105.2 L46.5,104.5 L46.8,103.6 L47.1,102.7 L47.5,101.7 L47.9,100.8 L48.3,99.8 L48.8,98.8 L49.3,97.8 L49.8,96.9 L50.4,95.9 L51.0,95.0 L51.7,94.0 L52.5,93.0 L53.3,91.9 L54.2,90.9 L55.1,89.9 L56.1,89.0 L57.0,88.0 L58.0,87.1 L59.0,86.3 L60.0,85.5 L60.9,84.8 L61.9,84.2 L62.8,83.7 L63.8,83.2 L64.8,82.7 L65.8,82.2 L66.8,81.7 L67.8,81.3 L68.9,80.8 L70.0,80.3 L71.4,79.7 L72.8,79.0 L74.3,78.4 L75.9,77.8 L77.5,77.1 L79.0,76.5 L80.6,75.9 L82.1,75.3 L83.6,74.8 L85.0,74.3 L86.1,73.9 L87.1,73.6 L88.0,73.3 L89.0,73.0 L89.9,72.7 L90.9,72.5 L91.9,72.2 L92.9,71.9 L93.9,71.7 L95.0,71.4 L96.4,71.1 L97.9,70.7 L99.3,70.4 L100.7,70.1 L102.3,69.8 L103.9,69.5 L105.6,69.1 L107.5,68.8 L109.6,68.3 L111.9,67.8 L119.3,66.3 L128.9,64.3 L140.2,61.9 L152.6,59.3 L165.5,56.6 L178.4,53.9 L190.8,51.3 L202.1,48.9 L211.7,46.9 L219.1,45.4 L221.4,44.9 L223.5,44.4 L225.4,44.0 L227.1,43.6 L228.7,43.3 L230.2,42.9 L231.7,42.6 L233.1,42.3 L234.5,42.1 L236.0,41.8 L237.1,41.6 L238.2,41.4 L239.2,41.3 L240.2,41.1 L241.2,41.0 L242.1,40.9 L243.1,40.7 L244.0,40.6 L245.0,40.5 L246.0,40.4 L247.0,40.3 L248.0,40.2 L248.9,40.0 L249.9,39.9 L250.9,39.8 L251.8,39.7 L252.8,39.6 L253.8,39.6 L254.9,39.5 L256.0,39.5 L257.5,39.5 L259.0,39.5 L260.6,39.6 L262.2,39.7 L263.9,39.8 L265.6,39.9 L267.2,40.1 L268.9,40.3 L270.5,40.5 L272.0,40.8 L273.4,41.1 L274.7,41.4 L276.1,41.7 L277.4,42.1 L278.8,42.5 L280.1,42.9 L281.3,43.3 L282.6,43.7 L283.8,44.1 L285.0,44.5 L286.0,44.8 L287.0,45.2 L287.9,45.5 L288.9,45.9 L289.8,46.2 L290.7,46.6 L291.6,47.0 L292.4,47.3 L293.2,47.7 L294.0,48.0 L294.5,48.2 L295.0,48.5 L295.4,48.7 L295.8,48.9 L296.2,49.1 L296.7,49.3 L297.1,49.5 L297.6,49.8 L298.2,50.1 L298.8,50.4 L300.9,51.5 L303.6,52.9 L306.8,54.5 L310.3,56.2 L314.0,58.1 L317.7,60.0 L321.2,61.7 L324.4,63.3 L327.1,64.7 L329.2,65.8 L329.8,66.1 L330.4,66.4 L330.9,66.6 L331.4,66.8 L331.8,67.0 L332.2,67.2 L332.6,67.5 L333.0,67.7 L333.5,67.9 L334.0,68.2 L334.8,68.6 L335.6,69.1 L336.5,69.5 L337.4,70.0 L338.4,70.6 L339.3,71.1 L340.3,71.7 L341.2,72.3 L342.1,72.9 L343.0,73.5 L344.0,74.2 L344.9,75.0 L345.9,75.7 L346.9,76.5 L347.8,77.4 L348.7,78.2 L349.6,79.1 L350.5,80.1 L351.3,81.0 L352.0,82.0 L352.7,83.1 L353.4,84.2 L354.0,85.3 L354.7,86.5 L355.2,87.8 L355.7,89.0 L356.2,90.3 L356.5,91.5 L356.8,92.8 L357.0,94.0 L357.1,95.2 L357.1,96.4 L357.1,97.7 L357.0,98.9 L356.8,100.2 L356.5,101.4 L356.2,102.6 L355.9,103.8 L355.5,104.9 L355.0,106.0 L354.5,106.9 L354.0,107.9 L353.4,108.7 L352.7,109.6 L352.0,110.4 L351.2,111.2 L350.5,112.0 L349.7,112.7 L348.8,113.4 L348.0,114.0 L347.1,114.6 L346.2,115.1 L345.3,115.6 L344.3,116.1 L343.3,116.5 L342.2,116.9 L341.2,117.3 L340.1,117.7 L339.1,118.0 L338.0,118.4 L336.9,118.8 L335.7,119.1 L334.6,119.4 L333.4,119.7 L332.2,119.9 L331.0,120.2 L329.8,120.4 L328.6,120.7 L327.3,121.0 L326.0,121.3 L324.5,121.7 L323.0,122.0 L321.6,122.4 L320.1,122.7 L318.6,123.1 L317.0,123.5 L315.3,123.9 L313.4,124.4 L311.4,124.9 L309.1,125.4 L301.7,127.2 L292.1,129.6 L280.8,132.3 L268.4,135.3 L255.5,138.4 L242.6,141.6 L230.2,144.6 L218.9,147.3 L209.3,149.7 L201.9,151.5 L199.6,152.0 L197.6,152.5 L195.7,153.0 L194.1,153.4 L192.5,153.8 L191.0,154.2 L189.5,154.5 L188.1,154.9 L186.6,155.2 L185.0,155.6 L183.5,156.0 L182.0,156.3 L180.5,156.7 L179.0,157.0 L177.6,157.4 L176.1,157.7 L174.6,158.0 L173.1,158.4 L171.6,158.7 L170.0,159.0 L168.1,159.4 L166.2,159.7 L164.2,160.1 L162.2,160.5 L160.2,160.8 L158.1,161.2 L156.1,161.5 L154.1,161.8 L152.0,162.1 L150.0,162.4 L148.0,162.7 L146.0,162.9 L143.9,163.2 L141.9,163.4 L139.9,163.7 L137.8,163.9 L135.8,164.1 L133.9,164.2 L131.9,164.3 L130.0,164.4 L128.3,164.4 L126.7,164.4 L125.0,164.4 L123.4,164.4 L121.8,164.3 L120.2,164.3 L118.6,164.1 L117.1,164.0 L115.5,163.8 L114.0,163.6 L112.5,163.4 L111.1,163.1 L109.6,162.8 L108.2,162.5 L106.8,162.1 L105.3,161.7 L104.0,161.3 L102.6,160.9 L101.3,160.5 L100.0,160.0 L98.9,159.6 L97.9,159.1 L96.8,158.7 L95.8,158.2 L94.8,157.7 L93.9,157.2 L92.9,156.7 L91.9,156.1 L91.0,155.6 L90.0,155.0 L89.0,154.4 L88.0,153.7 L87.0,153.1 L86.0,152.4 L85.0,151.7 L84.0,150.9 L83.0,150.2 L82.0,149.5 L81.0,148.7 L80.0,148.0 L79.0,147.2 L78.0,146.5 L77.0,145.7 L76.0,144.9 L75.0,144.1 L74.0,143.2 L73.0,142.4 L72.0,141.6 L71.0,140.8 L70.0,140.0 L69.0,139.2 L68.0,138.4 L67.0,137.6 L66.0,136.9 L65.0,136.1 L64.0,135.3 L63.0,134.5 L62.0,133.7 L61.0,132.9 L60.0,132.0 L59.0,131.1 L57.9,130.1 L56.8,129.1 L55.7,128.1 L54.6,127.0 L53.6,126.0 L52.6,125.0 L51.7,124.0 L50.8,123.0 L50.0,122.0 L49.4,121.3 L48.9,120.5 L48.4,119.8 L47.9,119.1 L47.4,118.4 L47.0,117.7 L46.6,117.0 L46.3,116.3 L46.0,115.6 L45.8,115.0 L45.7,114.6 L45.6,114.2 L45.5,113.8 L45.5,113.4 L45.5,113.0 L45.4,112.6 L45.5,112.2 L45.5,111.8 L45.5,111.4Z" fill="#fff"/>
<path d="M45.5,111.0 L45.5,110.4 L45.6,109.8 L45.6,109.2 L45.7,108.6 L45.8,107.9 L45.9,107.2 L46.0,106.6 L46.1,105.9 L46.3,105.2 L46.5,104.5 L46.8,103.6 L47.1,102.7 L47.5,101.7 L47.9,100.8 L48.3,99.8 L48.8,98.8 L49.3,97.8 L49.8,96.9 L50.4,95.9 L51.0,95.0 L51.7,94.0 L52.5,93.0 L53.3,91.9 L54.2,90.9 L55.1,89.9 L56.1,89.0 L57.0,88.0 L58.0,87.1 L59.0,86.3 L60.0,85.5 L60.9,84.8 L61.9,84.2 L62.8,83.7 L63.8,83.2 L64.8,82.7 L65.8,82.2 L66.8,81.7 L67.8,81.3 L68.9,80.8 L70.0,80.3 L71.4,79.7 L72.8,79.0 L74.3,78.4 L75.9,77.8 L77.5,77.1 L79.0,76.5 L80.6,75.9 L82.1,75.3 L83.6,74.8 L85.0,74.3 L86.1,73.9 L87.1,73.6 L88.0,73.3 L89.0,73.0 L89.9,72.7 L90.9,72.5 L91.9,72.2 L92.9,71.9 L93.9,71.7 L95.0,71.4 L96.4,71.1 L97.9,70.7 L99.3,70.4 L100.7,70.1 L102.3,69.8 L103.9,69.5 L105.6,69.1 L107.5,68.8 L109.6,68.3 L111.9,67.8 L119.3,66.3 L128.9,64.3 L140.2,61.9 L152.6,59.3 L165.5,56.6 L178.4,53.9 L190.8,51.3 L202.1,48.9 L211.7,46.9 L219.1,45.4 L221.4,44.9 L223.5,44.4 L225.4,44.0 L227.1,43.6 L228.7,43.3 L230.2,42.9 L231.7,42.6 L233.1,42.3 L234.5,42.1 L236.0,41.8 L237.1,41.6 L238.2,41.4 L239.2,41.3 L240.2,41.1 L241.2,41.0 L242.1,40.9 L243.1,40.7 L244.0,40.6 L245.0,40.5 L246.0,40.4 L247.0,40.3 L248.0,40.2 L248.9,40.0 L249.9,39.9 L250.9,39.8 L251.8,39.7 L252.8,39.6 L253.8,39.6 L254.9,39.5 L256.0,39.5 L257.5,39.5 L259.0,39.5 L260.6,39.6 L262.2,39.7 L263.9,39.8 L265.6,39.9 L267.2,40.1 L268.9,40.3 L270.5,40.5 L272.0,40.8 L273.4,41.1 L274.7,41.4 L276.1,41.7 L277.4,42.1 L278.8,42.5 L280.1,42.9 L281.3,43.3 L282.6,43.7 L283.8,44.1 L285.0,44.5 L286.0,44.8 L287.0,45.2 L287.9,45.5 L288.9,45.9 L289.8,46.2 L290.7,46.6 L291.6,47.0 L292.4,47.3 L293.2,47.7 L294.0,48.0 L294.5,48.2 L295.0,48.5 L295.4,48.7 L295.8,48.9 L296.2,49.1 L296.7,49.3 L297.1,49.5 L297.6,49.8 L298.2,50.1 L298.8,50.4 L300.9,51.5 L303.6,52.9 L306.8,54.5 L310.3,56.2 L314.0,58.1 L317.7,60.0 L321.2,61.7 L324.4,63.3 L327.1,64.7 L329.2,65.8 L329.8,66.1 L330.4,66.4 L330.9,66.6 L331.4,66.8 L331.8,67.0 L332.2,67.2 L332.6,67.5 L333.0,67.7 L333.5,67.9 L334.0,68.2 L334.8,68.6 L335.6,69.1 L336.5,69.5 L337.4,70.0 L338.4,70.6 L339.3,71.1 L340.3,71.7 L341.2,72.3 L342.1,72.9 L343.0,73.5 L344.0,74.2 L344.9,75.0 L345.9,75.7 L346.9,76.5 L347.8,77.4 L348.7,78.2 L349.6,79.1 L350.5,80.1 L351.3,81.0 L352.0,82.0 L352.7,83.1 L353.4,84.2 L354.0,85.3 L354.7,86.5 L355.2,87.8 L355.7,89.0 L356.2,90.3 L356.5,91.5 L356.8,92.8 L357.0,94.0 L357.1,95.2 L357.1,96.4 L357.1,97.7 L357.0,98.9 L356.8,100.2 L356.5,101.4 L356.2,102.6 L355.9,103.8 L355.5,104.9 L355.0,106.0 L354.5,106.9 L354.0,107.9 L353.4,108.7 L352.7,109.6 L352.0,110.4 L351.2,111.2 L350.5,112.0 L349.7,112.7 L348.8,113.4 L348.0,114.0 L347.1,114.6 L346.2,115.1 L345.3,115.6 L344.3,116.1 L343.3,116.5 L342.2,116.9 L341.2,117.3 L340.1,117.7 L339.1,118.0 L338.0,118.4 L336.9,118.8 L335.7,119.1 L334.6,119.4 L333.4,119.7 L332.2,119.9 L331.0,120.2 L329.8,120.4 L328.6,120.7 L327.3,121.0 L326.0,121.3 L324.5,121.7 L323.0,122.0 L321.6,122.4 L320.1,122.7 L318.6,123.1 L317.0,123.5 L315.3,123.9 L313.4,124.4 L311.4,124.9 L309.1,125.4 L301.7,127.2 L292.1,129.6 L280.8,132.3 L268.4,135.3 L255.5,138.4 L242.6,141.6 L230.2,144.6 L218.9,147.3 L209.3,149.7 L201.9,151.5 L199.6,152.0 L197.6,152.5 L195.7,153.0 L194.1,153.4 L192.5,153.8 L191.0,154.2 L189.5,154.5 L188.1,154.9 L186.6,155.2 L185.0,155.6 L183.5,156.0 L182.0,156.3 L180.5,156.7 L179.0,157.0 L177.6,157.4 L176.1,157.7 L174.6,158.0 L173.1,158.4 L171.6,158.7 L170.0,159.0 L168.1,159.4 L166.2,159.7 L164.2,160.1 L162.2,160.5 L160.2,160.8 L158.1,161.2 L156.1,161.5 L154.1,161.8 L152.0,162.1 L150.0,162.4 L148.0,162.7 L146.0,162.9 L143.9,163.2 L141.9,163.4 L139.9,163.7 L137.8,163.9 L135.8,164.1 L133.9,164.2 L131.9,164.3 L130.0,164.4 L128.3,164.4 L126.7,164.4 L125.0,164.4 L123.4,164.4 L121.8,164.3 L120.2,164.3 L118.6,164.1 L117.1,164.0 L115.5,163.8 L114.0,163.6 L112.5,163.4 L111.1,163.1 L109.6,162.8 L108.2,162.5 L106.8,162.1 L105.3,161.7 L104.0,161.3 L102.6,160.9 L101.3,160.5 L100.0,160.0 L98.9,159.6 L97.9,159.1 L96.8,158.7 L95.8,158.2 L94.8,157.7 L93.9,157.2 L92.9,156.7 L91.9,156.1 L91.0,155.6 L90.0,155.0 L89.0,154.4 L88.0,153.7 L87.0,153.1 L86.0,152.4 L85.0,151.7 L84.0,150.9 L83.0,150.2 L82.0,149.5 L81.0,148.7 L80.0,148.0 L79.0,147.2 L78.0,146.5 L77.0,145.7 L76.0,144.9 L75.0,144.1 L74.0,143.2 L73.0,142.4 L72.0,141.6 L71.0,140.8 L70.0,140.0 L69.0,139.2 L68.0,138.4 L67.0,137.6 L66.0,136.9 L65.0,136.1 L64.0,135.3 L63.0,134.5 L62.0,133.7 L61.0,132.9 L60.0,132.0 L59.0,131.1 L57.9,130.1 L56.8,129.1 L55.7,128.1 L54.6,127.0 L53.6,126.0 L52.6,125.0 L51.7,124.0 L50.8,123.0 L50.0,122.0 L49.4,121.3 L48.9,120.5 L48.4,119.8 L47.9,119.1 L47.4,118.4 L47.0,117.7 L46.6,117.0 L46.3,116.3 L46.0,115.6 L45.8,115.0 L45.7,114.6 L45.6,114.2 L45.5,113.8 L45.5,113.4 L45.5,113.0 L45.4,112.6 L45.5,112.2 L45.5,111.8 L45.5,111.4Z" fill="none" stroke="#231815" stroke-width="3.6" stroke-linecap="round" stroke-linejoin="round"/>
<path d="M77.0,78.5 L76.4,78.8 L75.7,79.1 L75.1,79.3 L74.4,79.6 L73.8,79.9 L73.1,80.2 L72.5,80.5 L72.0,80.8 L71.4,81.1 L71.0,81.5 L70.7,81.8 L70.4,82.2 L70.1,82.5 L69.9,82.9 L69.6,83.2 L69.5,83.6 L69.3,84.0 L69.2,84.4 L69.1,84.8 L69.0,85.2 L69.0,85.6 L69.0,86.1 L69.1,86.6 L69.2,87.0 L69.3,87.5 L69.5,88.0 L69.7,88.5 L69.9,89.0 L70.2,89.5 L70.5,90.0 L71.1,90.8 L71.8,91.7 L72.6,92.6 L73.5,93.5 L74.5,94.4 L75.6,95.3 L76.6,96.2 L77.8,97.1 L78.9,98.1 L80.0,99.0 L81.4,100.2 L82.9,101.4 L84.5,102.6 L86.1,103.8 L87.8,105.0 L89.4,106.2 L91.1,107.5 L92.8,108.7 L94.4,109.8 L96.0,111.0 L97.4,112.1 L98.9,113.2 L100.4,114.2 L101.8,115.3 L103.3,116.4 L104.7,117.4 L106.1,118.4 L107.4,119.3 L108.7,120.2 L110.0,121.0 L110.9,121.5 L111.7,122.0 L112.5,122.5 L113.3,122.9 L114.1,123.3 L114.9,123.7 L115.6,124.0 L116.4,124.4 L117.2,124.7 L118.0,125.0 L118.8,125.3 L119.5,125.5 L120.3,125.8 L121.0,126.0 L121.8,126.2 L122.6,126.4 L123.4,126.6 L124.2,126.7 L125.1,126.9 L126.0,127.0 L127.4,127.1 L128.9,127.2 L130.4,127.2 L132.1,127.2 L133.8,127.2 L135.5,127.2 L137.1,127.1 L138.8,127.0 L140.4,126.9 L142.0,126.8 L143.4,126.7 L144.7,126.6 L146.0,126.5 L147.3,126.3 L148.5,126.2 L149.8,126.0 L151.1,125.8 L152.4,125.6 L153.7,125.4 L155.0,125.2 L156.5,124.9 L157.9,124.7 L159.4,124.4 L160.9,124.1 L162.4,123.7 L163.9,123.4 L165.4,123.1 L166.9,122.7 L168.4,122.4 L170.0,122.0 L171.7,121.6 L173.2,121.2 L174.8,120.9 L176.3,120.5 L177.9,120.1 L179.6,119.7 L181.4,119.3 L183.4,118.8 L185.6,118.3 L188.0,117.7 L195.9,115.8 L206.1,113.3 L218.1,110.5 L231.2,107.3 L245.0,104.0 L258.8,100.7 L271.9,97.5 L283.9,94.7 L294.1,92.2 L302.0,90.3 L304.4,89.7 L306.6,89.2 L308.6,88.7 L310.4,88.3 L312.1,87.9 L313.7,87.5 L315.3,87.1 L316.8,86.7 L318.4,86.4 L320.0,86.0 L321.5,85.7 L323.0,85.4 L324.5,85.1 L326.0,84.8 L327.5,84.5 L328.9,84.3 L330.3,84.0 L331.6,83.7 L332.8,83.4 L334.0,83.0 L334.8,82.7 L335.6,82.5 L336.3,82.2 L337.0,82.0 L337.7,81.7 L338.4,81.4 L339.0,81.1 L339.5,80.8 L340.0,80.4 L340.5,80.0 L340.8,79.7 L341.2,79.3 L341.5,78.9 L341.7,78.5 L342.0,78.1 L342.2,77.7 L342.4,77.3 L342.5,76.8 L342.5,76.4 L342.5,76.0 L342.4,75.5 L342.1,75.0 L341.7,74.5 L341.3,74.0 L340.7,73.5 L340.2,73.0 L339.6,72.5 L339.0,72.0 L338.5,71.5 L338.0,71.0" fill="none" stroke="#231815" stroke-width="1.4" stroke-linecap="round" stroke-linejoin="round"/>
<path d="M190.0,147.5 L189.3,147.8 L188.5,148.1 L187.7,148.4 L187.0,148.7 L186.2,149.0 L185.5,149.3 L184.8,149.7 L184.2,150.1 L183.5,150.5 L183.0,151.0 L182.6,151.5 L182.1,152.0 L181.8,152.5 L181.4,153.1 L181.1,153.6 L180.8,154.2 L180.5,154.8 L180.3,155.4 L180.0,156.0 L179.8,156.5 L179.6,157.0 L179.4,157.4 L179.3,157.8 L179.2,158.2 L179.0,158.7 L178.9,159.1 L178.8,159.5 L178.7,160.0 L178.6,160.5 L178.5,161.0 L178.3,161.8 L178.2,162.6 L178.1,163.5 L177.9,164.3 L177.8,165.3 L177.7,166.2 L177.6,167.2 L177.5,168.1 L177.4,169.1 L177.3,170.0 L177.2,171.0 L177.1,172.0 L176.9,173.1 L176.8,174.1 L176.7,175.2 L176.6,176.2 L176.5,177.2 L176.5,178.2 L176.5,179.1 L176.6,180.0 L176.7,180.6 L176.8,181.3 L177.0,181.9 L177.1,182.4 L177.3,183.0 L177.5,183.5 L177.7,184.1 L178.0,184.6 L178.3,185.0 L178.6,185.5 L178.9,185.9 L179.3,186.3 L179.7,186.7 L180.1,187.1 L180.5,187.5 L181.0,187.8 L181.5,188.1 L182.0,188.4 L182.5,188.6 L183.0,188.8 L183.6,188.9 L184.2,189.0 L184.9,189.1 L185.5,189.0 L186.2,189.0 L186.9,188.9 L187.6,188.8 L188.4,188.7 L189.2,188.5 L190.0,188.4 L191.2,188.2 L192.4,187.9 L193.7,187.6 L195.0,187.3 L196.3,186.9 L197.8,186.5 L199.4,186.1 L201.1,185.6 L203.0,185.1 L205.0,184.6 L211.6,182.9 L220.1,180.7 L230.1,178.2 L241.0,175.4 L252.5,172.5 L264.0,169.5 L274.9,166.7 L284.9,164.2 L293.4,162.0 L300.0,160.3 L302.0,159.8 L303.9,159.3 L305.6,158.9 L307.2,158.5 L308.6,158.2 L310.0,157.8 L311.3,157.5 L312.5,157.2 L313.8,156.8 L315.0,156.5 L315.9,156.2 L316.8,156.0 L317.7,155.8 L318.5,155.6 L319.3,155.4 L320.1,155.1 L320.9,154.9 L321.6,154.6 L322.3,154.3 L323.0,154.0 L323.5,153.7 L324.0,153.4 L324.5,153.1 L325.0,152.8 L325.4,152.4 L325.8,152.1 L326.2,151.7 L326.6,151.3 L327.0,150.9 L327.3,150.5 L327.6,150.0 L328.0,149.6 L328.3,149.1 L328.5,148.5 L328.8,148.0 L329.0,147.4 L329.2,146.9 L329.4,146.3 L329.6,145.6 L329.8,145.0 L330.0,144.1 L330.1,143.2 L330.2,142.2 L330.3,141.2 L330.3,140.2 L330.4,139.1 L330.4,138.1 L330.4,137.0 L330.4,136.0 L330.4,135.0 L330.4,134.1 L330.4,133.1 L330.4,132.2 L330.4,131.3 L330.4,130.3 L330.4,129.4 L330.4,128.5 L330.3,127.6 L330.3,126.8 L330.2,126.0 L330.1,125.4 L330.0,124.8 L329.9,124.2 L329.8,123.6 L329.7,123.1 L329.6,122.5 L329.5,122.0 L329.3,121.5 L329.2,121.0 L329.0,120.5 L328.8,120.1 L328.7,119.7 L328.5,119.3 L328.3,118.9 L328.1,118.5 L327.9,118.1 L327.7,117.8 L327.5,117.4 L327.3,117.1 L327.0,116.8 L326.7,116.5 L326.5,116.3 L326.2,116.1 L325.9,115.8 L325.6,115.6 L325.3,115.5 L325.0,115.3 L324.7,115.1 L324.3,115.0 L324.0,114.9 L323.6,114.8 L323.3,114.8 L322.9,114.7 L322.5,114.7 L322.1,114.7 L321.7,114.7 L321.3,114.8 L320.9,114.8 L320.4,114.9 L320.0,114.9 L319.5,115.0 L318.9,115.1 L318.3,115.2 L317.7,115.3 L317.1,115.4 L316.5,115.6 L315.9,115.7 L315.3,115.9 L314.6,116.1 L314.0,116.2 L313.3,116.4 L312.5,116.5 L311.7,116.7 L311.0,116.9 L310.2,117.0 L309.4,117.2 L308.6,117.4 L307.7,117.6 L306.9,117.8 L306.0,118.0 L304.9,118.3 L303.9,118.5 L302.9,118.8 L301.9,119.0 L300.8,119.3 L299.7,119.6 L298.4,119.9 L297.1,120.2 L295.6,120.6 L294.0,121.0 L288.8,122.4 L281.9,124.1 L274.0,126.1 L265.2,128.3 L256.0,130.7 L246.8,133.0 L238.0,135.2 L230.1,137.2 L223.2,138.9 L218.0,140.3 L216.4,140.7 L214.9,141.0 L213.6,141.4 L212.3,141.7 L211.2,142.0 L210.1,142.3 L209.1,142.5 L208.1,142.8 L207.1,143.0 L206.0,143.3 L205.1,143.5 L204.3,143.7 L203.5,143.9 L202.7,144.1 L201.9,144.3 L201.1,144.5 L200.3,144.7 L199.6,144.9 L198.8,145.1 L198.0,145.3 L197.2,145.5 L196.4,145.7 L195.6,145.9 L194.8,146.1 L193.9,146.3 L193.1,146.5 L192.3,146.7 L191.5,147.0 L190.8,147.2Z" fill="#fff"/>
<path d="M189.6,146.4 L188.8,146.6 L188.1,146.9 L187.3,147.2 L186.5,147.5 L185.7,147.8 L184.9,148.2 L184.1,148.5 L183.4,149.0 L182.7,149.4 L182.0,150.0 L181.5,150.5 L181.0,151.1 L180.5,151.7 L180.1,152.3 L179.7,152.9 L179.4,153.5 L179.1,154.1 L178.8,154.7 L178.5,155.3 L178.2,155.8 L178.0,156.3 L177.8,156.8 L177.6,157.3 L177.5,157.7 L177.3,158.2 L177.2,158.6 L177.0,159.1 L176.9,159.6 L176.8,160.1 L176.6,160.6 L176.5,161.4 L176.3,162.3 L176.2,163.2 L176.1,164.1 L175.9,165.0 L175.8,166.0 L175.7,167.0 L175.6,167.9 L175.5,168.9 L175.4,169.8 L175.3,170.8 L175.2,171.8 L175.0,172.8 L174.9,173.9 L174.8,175.0 L174.7,176.1 L174.6,177.1 L174.6,178.2 L174.6,179.2 L174.7,180.2 L174.8,181.0 L175.0,181.6 L175.1,182.3 L175.3,183.0 L175.5,183.6 L175.8,184.3 L176.0,184.9 L176.3,185.5 L176.7,186.1 L177.1,186.6 L177.5,187.1 L177.9,187.6 L178.4,188.1 L178.9,188.6 L179.4,189.0 L179.9,189.4 L180.5,189.8 L181.1,190.1 L181.8,190.4 L182.5,190.6 L183.3,190.8 L184.1,190.9 L184.8,191.0 L185.6,190.9 L186.4,190.9 L187.2,190.8 L187.9,190.7 L188.7,190.5 L189.5,190.4 L190.3,190.3 L191.6,190.1 L192.9,189.8 L194.1,189.5 L195.5,189.2 L196.9,188.8 L198.3,188.4 L199.9,187.9 L201.6,187.5 L203.4,187.0 L205.5,186.4 L212.0,184.8 L220.5,182.6 L230.5,180.0 L241.5,177.2 L253.0,174.3 L264.4,171.4 L275.4,168.6 L285.4,166.0 L293.9,163.9 L300.5,162.2 L302.5,161.7 L304.4,161.2 L306.1,160.8 L307.6,160.4 L309.1,160.1 L310.4,159.7 L311.7,159.4 L313.0,159.1 L314.3,158.7 L315.5,158.4 L316.4,158.1 L317.3,157.9 L318.2,157.7 L319.0,157.5 L319.9,157.2 L320.7,157.0 L321.5,156.7 L322.3,156.4 L323.1,156.1 L323.9,155.7 L324.5,155.4 L325.1,155.1 L325.6,154.8 L326.2,154.4 L326.7,154.0 L327.2,153.6 L327.7,153.2 L328.1,152.8 L328.6,152.3 L329.0,151.8 L329.4,151.3 L329.8,150.7 L330.2,150.2 L330.6,149.6 L330.9,148.9 L331.2,148.3 L331.5,147.7 L331.8,147.0 L332.0,146.3 L332.2,145.6 L332.5,144.6 L332.6,143.5 L332.7,142.4 L332.8,141.4 L332.9,140.3 L332.9,139.2 L332.9,138.1 L333.0,137.0 L333.0,136.0 L333.0,135.0 L333.0,134.1 L333.0,133.2 L333.0,132.2 L333.0,131.3 L333.0,130.3 L333.0,129.3 L332.9,128.4 L332.9,127.5 L332.8,126.6 L332.7,125.7 L332.5,125.1 L332.4,124.4 L332.2,123.8 L332.0,123.2 L331.8,122.6 L331.6,122.1 L331.4,121.5 L331.2,120.9 L330.9,120.4 L330.7,119.9 L330.5,119.5 L330.3,119.0 L330.0,118.6 L329.8,118.2 L329.5,117.8 L329.2,117.4 L329.0,117.0 L328.6,116.6 L328.3,116.2 L328.0,115.9 L327.6,115.6 L327.3,115.4 L327.0,115.1 L326.6,114.9 L326.2,114.7 L325.9,114.5 L325.5,114.3 L325.1,114.1 L324.7,114.0 L324.3,113.9 L323.8,113.8 L323.4,113.7 L322.9,113.7 L322.5,113.7 L322.1,113.7 L321.6,113.7 L321.2,113.8 L320.8,113.8 L320.3,113.9 L319.9,114.0 L319.3,114.0 L318.7,114.1 L318.1,114.2 L317.5,114.4 L316.9,114.5 L316.3,114.7 L315.7,114.8 L315.0,115.0 L314.4,115.1 L313.8,115.3 L313.0,115.4 L312.3,115.6 L311.5,115.8 L310.8,115.9 L310.0,116.1 L309.2,116.3 L308.3,116.5 L307.5,116.7 L306.7,116.9 L305.8,117.1 L304.7,117.3 L303.7,117.6 L302.7,117.8 L301.6,118.1 L300.6,118.4 L299.4,118.7 L298.2,119.0 L296.9,119.3 L295.4,119.7 L293.8,120.1 L288.5,121.4 L281.7,123.2 L273.7,125.2 L264.9,127.4 L255.8,129.7 L246.6,132.0 L237.8,134.3 L229.8,136.3 L223.0,138.0 L217.8,139.3 L216.1,139.8 L214.7,140.1 L213.3,140.5 L212.1,140.8 L211.0,141.1 L209.9,141.3 L208.9,141.6 L207.8,141.9 L206.8,142.1 L205.8,142.4 L204.9,142.6 L204.1,142.8 L203.3,143.0 L202.5,143.2 L201.7,143.4 L200.9,143.6 L200.1,143.8 L199.3,144.0 L198.6,144.2 L197.8,144.4 L197.0,144.6 L196.1,144.7 L195.3,144.9 L194.5,145.1 L193.7,145.3 L192.9,145.4 L192.0,145.6 L191.2,145.9 L190.4,146.1Z M191.2,148.3 L191.9,148.1 L192.7,147.8 L193.4,147.6 L194.2,147.3 L195.0,147.1 L195.8,146.9 L196.6,146.7 L197.4,146.5 L198.2,146.2 L199.0,146.0 L199.8,145.8 L200.6,145.6 L201.3,145.4 L202.1,145.2 L202.9,145.0 L203.7,144.8 L204.5,144.6 L205.4,144.4 L206.2,144.2 L207.3,144.0 L208.3,143.7 L209.3,143.4 L210.4,143.2 L211.4,142.9 L212.6,142.6 L213.8,142.3 L215.1,142.0 L216.6,141.6 L218.2,141.2 L223.5,139.9 L230.3,138.1 L238.3,136.1 L247.1,133.9 L256.2,131.6 L265.4,129.3 L274.2,127.0 L282.2,125.0 L289.0,123.3 L294.2,122.0 L295.9,121.5 L297.3,121.2 L298.7,120.8 L299.9,120.5 L301.0,120.2 L302.1,119.9 L303.1,119.7 L304.1,119.4 L305.2,119.2 L306.2,118.9 L307.1,118.7 L307.9,118.5 L308.8,118.3 L309.6,118.1 L310.4,118.0 L311.2,117.8 L311.9,117.6 L312.7,117.5 L313.5,117.3 L314.2,117.1 L314.9,117.0 L315.5,116.8 L316.1,116.7 L316.7,116.5 L317.3,116.4 L317.9,116.2 L318.5,116.1 L319.1,116.0 L319.6,115.9 L320.1,115.8 L320.5,115.8 L321.0,115.8 L321.4,115.7 L321.8,115.7 L322.1,115.7 L322.5,115.7 L322.8,115.7 L323.1,115.8 L323.4,115.8 L323.7,115.9 L324.0,116.0 L324.2,116.2 L324.5,116.3 L324.7,116.5 L325.0,116.6 L325.2,116.8 L325.4,117.0 L325.7,117.2 L325.9,117.5 L326.0,117.7 L326.2,117.9 L326.4,118.2 L326.5,118.5 L326.6,118.9 L326.8,119.2 L326.9,119.6 L327.0,119.9 L327.1,120.3 L327.2,120.7 L327.3,121.1 L327.4,121.6 L327.5,122.0 L327.5,122.5 L327.6,123.0 L327.6,123.5 L327.7,124.0 L327.7,124.6 L327.7,125.1 L327.7,125.7 L327.7,126.3 L327.8,127.0 L327.8,127.8 L327.9,128.6 L327.9,129.5 L327.9,130.4 L327.9,131.3 L327.9,132.2 L327.9,133.1 L327.8,134.0 L327.8,135.0 L327.8,136.0 L327.8,137.0 L327.8,138.0 L327.8,139.1 L327.8,140.1 L327.8,141.1 L327.7,142.0 L327.6,142.9 L327.5,143.7 L327.4,144.4 L327.3,145.0 L327.1,145.5 L327.0,146.0 L326.8,146.6 L326.7,147.0 L326.5,147.5 L326.3,147.9 L326.1,148.4 L325.8,148.8 L325.6,149.2 L325.3,149.5 L325.1,149.9 L324.8,150.2 L324.4,150.5 L324.1,150.8 L323.7,151.1 L323.4,151.4 L323.0,151.7 L322.5,152.0 L322.1,152.3 L321.5,152.6 L320.9,152.8 L320.3,153.0 L319.6,153.3 L318.8,153.5 L318.0,153.7 L317.2,153.9 L316.3,154.1 L315.4,154.4 L314.5,154.6 L313.2,155.0 L312.0,155.3 L310.8,155.6 L309.5,156.0 L308.1,156.3 L306.7,156.7 L305.1,157.0 L303.4,157.5 L301.6,157.9 L299.5,158.5 L293.0,160.1 L284.5,162.3 L274.5,164.9 L263.5,167.7 L252.0,170.6 L240.6,173.5 L229.6,176.3 L219.6,178.9 L211.1,181.0 L204.5,182.7 L202.5,183.3 L200.6,183.8 L198.9,184.2 L197.3,184.7 L195.8,185.1 L194.5,185.5 L193.2,185.8 L192.0,186.1 L190.9,186.3 L189.7,186.5 L188.9,186.6 L188.1,186.8 L187.4,186.9 L186.7,187.0 L186.0,187.1 L185.4,187.1 L184.9,187.2 L184.4,187.1 L184.0,187.1 L183.5,187.0 L183.2,186.9 L182.8,186.7 L182.4,186.5 L182.1,186.3 L181.7,186.0 L181.4,185.7 L181.0,185.4 L180.7,185.1 L180.4,184.7 L180.1,184.4 L179.9,184.0 L179.7,183.6 L179.5,183.2 L179.3,182.8 L179.1,182.4 L178.9,181.9 L178.8,181.4 L178.7,180.9 L178.6,180.3 L178.5,179.8 L178.4,179.0 L178.4,178.2 L178.4,177.3 L178.5,176.4 L178.6,175.4 L178.7,174.3 L178.8,173.3 L178.9,172.3 L179.1,171.2 L179.2,170.2 L179.3,169.3 L179.4,168.3 L179.5,167.4 L179.6,166.4 L179.7,165.5 L179.8,164.6 L180.0,163.7 L180.1,162.9 L180.2,162.1 L180.4,161.4 L180.4,160.9 L180.5,160.4 L180.6,160.0 L180.7,159.5 L180.8,159.1 L180.9,158.8 L181.0,158.4 L181.1,158.0 L181.2,157.6 L181.4,157.2 L181.6,156.6 L181.8,156.0 L182.0,155.5 L182.2,154.9 L182.5,154.4 L182.7,153.8 L183.0,153.3 L183.3,152.8 L183.6,152.4 L184.0,152.0 L184.4,151.6 L184.9,151.2 L185.5,150.9 L186.1,150.5 L186.8,150.2 L187.5,149.9 L188.2,149.5 L188.9,149.2 L189.7,148.9 L190.4,148.6Z" fill="#231815" fill-rule="evenodd"/>
<path d="M199.0,152.0 L198.3,152.2 L197.6,152.4 L196.8,152.5 L196.1,152.7 L195.4,152.8 L194.7,153.0 L194.0,153.2 L193.3,153.4 L192.6,153.7 L192.0,154.0 L191.4,154.4 L190.8,154.8 L190.3,155.2 L189.7,155.7 L189.2,156.2 L188.7,156.7 L188.2,157.3 L187.8,157.8 L187.4,158.4 L187.0,159.0 L186.7,159.6 L186.4,160.3 L186.2,160.9 L185.9,161.6 L185.8,162.3 L185.6,163.0 L185.5,163.8 L185.3,164.5 L185.2,165.3 L185.0,166.0 L184.8,166.8 L184.6,167.7 L184.5,168.6 L184.3,169.5 L184.2,170.4 L184.1,171.3 L183.9,172.2 L183.8,173.2 L183.6,174.1 L183.5,175.0 L183.3,175.9 L183.2,176.9 L183.0,177.8 L182.9,178.8 L182.7,179.7 L182.6,180.7 L182.4,181.6 L182.3,182.6 L182.1,183.5 L182.0,184.5" fill="none" stroke="#231815" stroke-width="1.4" stroke-linecap="round" stroke-linejoin="round"/>
<path d="M198.3,146.0 L198.5,146.3 L198.7,146.6 L198.9,146.9 L199.1,147.2 L199.3,147.5 L199.5,147.7 L199.7,148.0 L199.9,148.4 L200.1,148.7 L200.2,149.0 L200.3,149.4 L200.4,149.7 L200.5,150.1 L200.5,150.5 L200.6,150.9 L200.6,151.3 L200.6,151.7 L200.7,152.1 L200.7,152.5 L200.7,153.0 L200.7,153.7 L200.8,154.4 L200.8,155.2 L200.8,156.0 L200.8,156.8 L200.7,157.7 L200.7,158.5 L200.7,159.4 L200.7,160.2 L200.7,161.0" fill="none" stroke="#231815" stroke-width="1.4" stroke-linecap="round" stroke-linejoin="round"/>
<path d="M201,160.6 L316.3,131.3" stroke="#231815" stroke-width="3.5" fill="none"/>
<path d="M314.0,116.5 L314.3,116.9 L314.5,117.4 L314.8,117.8 L315.1,118.3 L315.3,118.7 L315.6,119.1 L315.9,119.6 L316.1,120.0 L316.3,120.5 L316.5,121.0 L316.7,121.6 L316.8,122.1 L317.0,122.7 L317.1,123.3 L317.2,124.0 L317.3,124.6 L317.4,125.2 L317.5,125.8 L317.5,126.4 L317.5,127.0 L317.5,127.5 L317.4,128.0 L317.3,128.5 L317.2,129.0 L317.1,129.5 L317.0,130.0 L316.9,130.5 L316.7,131.0 L316.6,131.5 L316.5,132.0" fill="none" stroke="#231815" stroke-width="1.4" stroke-linecap="round" stroke-linejoin="round"/>
<rect x="390.4" y="70.4" width="85.6" height="1.6" fill="#231815"/>
<rect x="390.4" y="135.2" width="85.6" height="1.6" fill="#231815"/>
<rect x="390.4" y="192.0" width="85.6" height="1.6" fill="#231815"/>
<rect x="390.4" y="290.0" width="85.6" height="1.6" fill="#231815"/>
<rect x="390.4" y="382.3" width="85.6" height="1.6" fill="#231815"/>
<rect x="390.4" y="454.4" width="85.6" height="1.6" fill="#231815"/>
<text x="492.2" y="77.7" font-family="'Liberation Serif','Noto Serif CJK SC',serif" font-size="21.0" font-weight="300" fill="#231815" textLength="41.6" lengthAdjust="spacingAndGlyphs">盖子</text>
<text transform="translate(536.6,76.4) skewX(-8)" font-family="'Noto Sans CJK SC','Liberation Sans',sans-serif" font-size="18.6" font-weight="200" fill="#231815">/</text>
<text x="545.4" y="76.7" font-family="'DejaVu Sans','Liberation Sans',sans-serif" font-size="15.0" font-weight="200" fill="#231815" stroke="#231815" stroke-width="0.40" textLength="33.0" lengthAdjust="spacingAndGlyphs">Lid</text>
<text x="492.2" y="142.7" font-family="'Liberation Serif','Noto Serif CJK SC',serif" font-size="21.0" font-weight="300" fill="#231815" textLength="41.6" lengthAdjust="spacingAndGlyphs">耳扣</text>
<text transform="translate(536.6,141.4) skewX(-8)" font-family="'Noto Sans CJK SC','Liberation Sans',sans-serif" font-size="18.6" font-weight="200" fill="#231815">/</text>
<text x="545.6" y="141.7" font-family="'DejaVu Sans','Liberation Sans',sans-serif" font-size="15.0" font-weight="200" fill="#231815" stroke="#231815" stroke-width="0.40" textLength="50.2" lengthAdjust="spacingAndGlyphs">Lock</text>
<text x="492.2" y="200.3" font-family="'Liberation Serif','Noto Serif CJK SC',serif" font-size="21.0" font-weight="300" fill="#231815" textLength="83.6" lengthAdjust="spacingAndGlyphs">密封硅胶</text>
<text transform="translate(578.4,199.0) skewX(-8)" font-family="'Noto Sans CJK SC','Liberation Sans',sans-serif" font-size="18.6" font-weight="200" fill="#231815">/</text>
<text x="588.0" y="199.3" font-family="'DejaVu Sans','Liberation Sans',sans-serif" font-size="15.0" font-weight="200" fill="#231815" stroke="#231815" stroke-width="0.40" textLength="103.6" lengthAdjust="spacingAndGlyphs">Lid Sealed</text>
<text x="492.2" y="297.7" font-family="'Liberation Serif','Noto Serif CJK SC',serif" font-size="21.0" font-weight="300" fill="#231815" textLength="104.6" lengthAdjust="spacingAndGlyphs">不锈钢容器</text>
<text transform="translate(599.9,296.4) skewX(-8)" font-family="'Noto Sans CJK SC','Liberation Sans',sans-serif" font-size="18.6" font-weight="200" fill="#231815">/</text>
<text x="609.8" y="296.7" font-family="'DejaVu Sans','Liberation Sans',sans-serif" font-size="15.0" font-weight="200" fill="#231815" stroke="#231815" stroke-width="0.40" textLength="98.0" lengthAdjust="spacingAndGlyphs">Container</text>
<text x="492.2" y="390.5" font-family="'Liberation Serif','Noto Serif CJK SC',serif" font-size="21.0" font-weight="300" fill="#231815" textLength="41.6" lengthAdjust="spacingAndGlyphs">底部</text>
<text transform="translate(536.5,389.2) skewX(-8)" font-family="'Noto Sans CJK SC','Liberation Sans',sans-serif" font-size="18.6" font-weight="200" fill="#231815">/</text>
<text x="546.4" y="389.5" font-family="'DejaVu Sans','Liberation Sans',sans-serif" font-size="15.0" font-weight="200" fill="#231815" stroke="#231815" stroke-width="0.40" textLength="48.0" lengthAdjust="spacingAndGlyphs">Body</text>
<text x="492.2" y="464.4" font-family="'Liberation Serif','Noto Serif CJK SC',serif" font-size="21.0" font-weight="300" fill="#231815" textLength="41.6" lengthAdjust="spacingAndGlyphs">尺寸</text>
<text transform="translate(536.5,463.1) skewX(-8)" font-family="'Noto Sans CJK SC','Liberation Sans',sans-serif" font-size="18.6" font-weight="200" fill="#231815">/</text>
<text x="546.5" y="463.4" font-family="'DejaVu Sans','Liberation Sans',sans-serif" font-size="15.0" font-weight="200" fill="#231815" stroke="#231815" stroke-width="0.40" textLength="147.2" lengthAdjust="spacingAndGlyphs">size :12x17x9cm</text>
<text x="492.0" y="98.7" font-family="'DejaVu Sans','Liberation Sans',sans-serif" font-size="12.0" font-weight="200" fill="#231815" stroke="#231815" stroke-width="0.30" textLength="26.2" lengthAdjust="spacingAndGlyphs">−20</text>
<text x="517.8" y="99.3" font-family="'Liberation Sans','Noto Sans CJK SC',sans-serif" font-size="14.0" font-weight="300" fill="#231815" textLength="14.2" lengthAdjust="spacingAndGlyphs">℃</text>
<text x="533.0" y="98.7" font-family="'DejaVu Sans','Liberation Sans',sans-serif" font-size="12.0" font-weight="200" fill="#231815" stroke="#231815" stroke-width="0.30" textLength="25.4" lengthAdjust="spacingAndGlyphs">−80</text>
<text x="558.6" y="99.3" font-family="'Liberation Sans','Noto Sans CJK SC',sans-serif" font-size="14.0" font-weight="300" fill="#231815" textLength="14.2" lengthAdjust="spacingAndGlyphs">℃</text>
<text x="573.6" y="98.7" font-family="'DejaVu Sans','Liberation Sans',sans-serif" font-size="12.0" font-weight="200" fill="#231815" stroke="#231815" stroke-width="0.30" textLength="25.0" lengthAdjust="spacingAndGlyphs">(PS)</text>
<text x="492.0" y="161.7" font-family="'DejaVu Sans','Liberation Sans',sans-serif" font-size="12.0" font-weight="200" fill="#231815" stroke="#231815" stroke-width="0.30" textLength="26.2" lengthAdjust="spacingAndGlyphs">−20</text>
<text x="517.8" y="162.3" font-family="'Liberation Sans','Noto Sans CJK SC',sans-serif" font-size="14.0" font-weight="300" fill="#231815" textLength="14.2" lengthAdjust="spacingAndGlyphs">℃</text>
<text x="532.8" y="161.7" font-family="'DejaVu Sans','Liberation Sans',sans-serif" font-size="12.0" font-weight="200" fill="#231815" stroke="#231815" stroke-width="0.30" textLength="33.0" lengthAdjust="spacingAndGlyphs">−140</text>
<text x="566.4" y="162.3" font-family="'Liberation Sans','Noto Sans CJK SC',sans-serif" font-size="14.0" font-weight="300" fill="#231815" textLength="14.2" lengthAdjust="spacingAndGlyphs">℃</text>
<text x="581.3" y="161.7" font-family="'DejaVu Sans','Liberation Sans',sans-serif" font-size="12.0" font-weight="200" fill="#231815" stroke="#231815" stroke-width="0.30" textLength="36.2" lengthAdjust="spacingAndGlyphs">(ABS)</text>
<text x="492.0" y="221.5" font-family="'DejaVu Sans','Liberation Sans',sans-serif" font-size="12.0" font-weight="200" fill="#231815" stroke="#231815" stroke-width="0.30" textLength="26.2" lengthAdjust="spacingAndGlyphs">−20</text>
<text x="517.8" y="222.1" font-family="'Liberation Sans','Noto Sans CJK SC',sans-serif" font-size="14.0" font-weight="300" fill="#231815" textLength="14.2" lengthAdjust="spacingAndGlyphs">℃</text>
<text x="532.8" y="221.5" font-family="'DejaVu Sans','Liberation Sans',sans-serif" font-size="12.0" font-weight="200" fill="#231815" stroke="#231815" stroke-width="0.30" textLength="33.0" lengthAdjust="spacingAndGlyphs">−140</text>
<text x="566.4" y="222.1" font-family="'Liberation Sans','Noto Sans CJK SC',sans-serif" font-size="14.0" font-weight="300" fill="#231815" textLength="14.2" lengthAdjust="spacingAndGlyphs">℃</text>
<text x="581.3" y="221.5" font-family="'DejaVu Sans','Liberation Sans',sans-serif" font-size="12.0" font-weight="200" fill="#231815" stroke="#231815" stroke-width="0.30" textLength="50.0" lengthAdjust="spacingAndGlyphs">(Silicon)</text>
<text x="491.6" y="322.8" font-family="'DejaVu Sans','Liberation Sans',sans-serif" font-size="11.4" font-weight="200" fill="#231815" stroke="#231815" stroke-width="0.30" textLength="156.4" lengthAdjust="spacingAndGlyphs">Stainless Steel SUS304</text>
<text x="492.0" y="411.5" font-family="'DejaVu Sans','Liberation Sans',sans-serif" font-size="12.0" font-weight="200" fill="#231815" stroke="#231815" stroke-width="0.30" textLength="26.2" lengthAdjust="spacingAndGlyphs">−20</text>
<text x="517.8" y="412.1" font-family="'Liberation Sans','Noto Sans CJK SC',sans-serif" font-size="14.0" font-weight="300" fill="#231815" textLength="14.2" lengthAdjust="spacingAndGlyphs">℃</text>
<text x="532.8" y="411.5" font-family="'DejaVu Sans','Liberation Sans',sans-serif" font-size="12.0" font-weight="200" fill="#231815" stroke="#231815" stroke-width="0.30" textLength="33.0" lengthAdjust="spacingAndGlyphs">−120</text>
<text x="566.4" y="412.1" font-family="'Liberation Sans','Noto Sans CJK SC',sans-serif" font-size="14.0" font-weight="300" fill="#231815" textLength="14.2" lengthAdjust="spacingAndGlyphs">℃</text>
<text x="581.3" y="411.5" font-family="'DejaVu Sans','Liberation Sans',sans-serif" font-size="12.0" font-weight="200" fill="#231815" stroke="#231815" stroke-width="0.30" textLength="28.2" lengthAdjust="spacingAndGlyphs">(PP)</text>
</svg>
</body></html>
